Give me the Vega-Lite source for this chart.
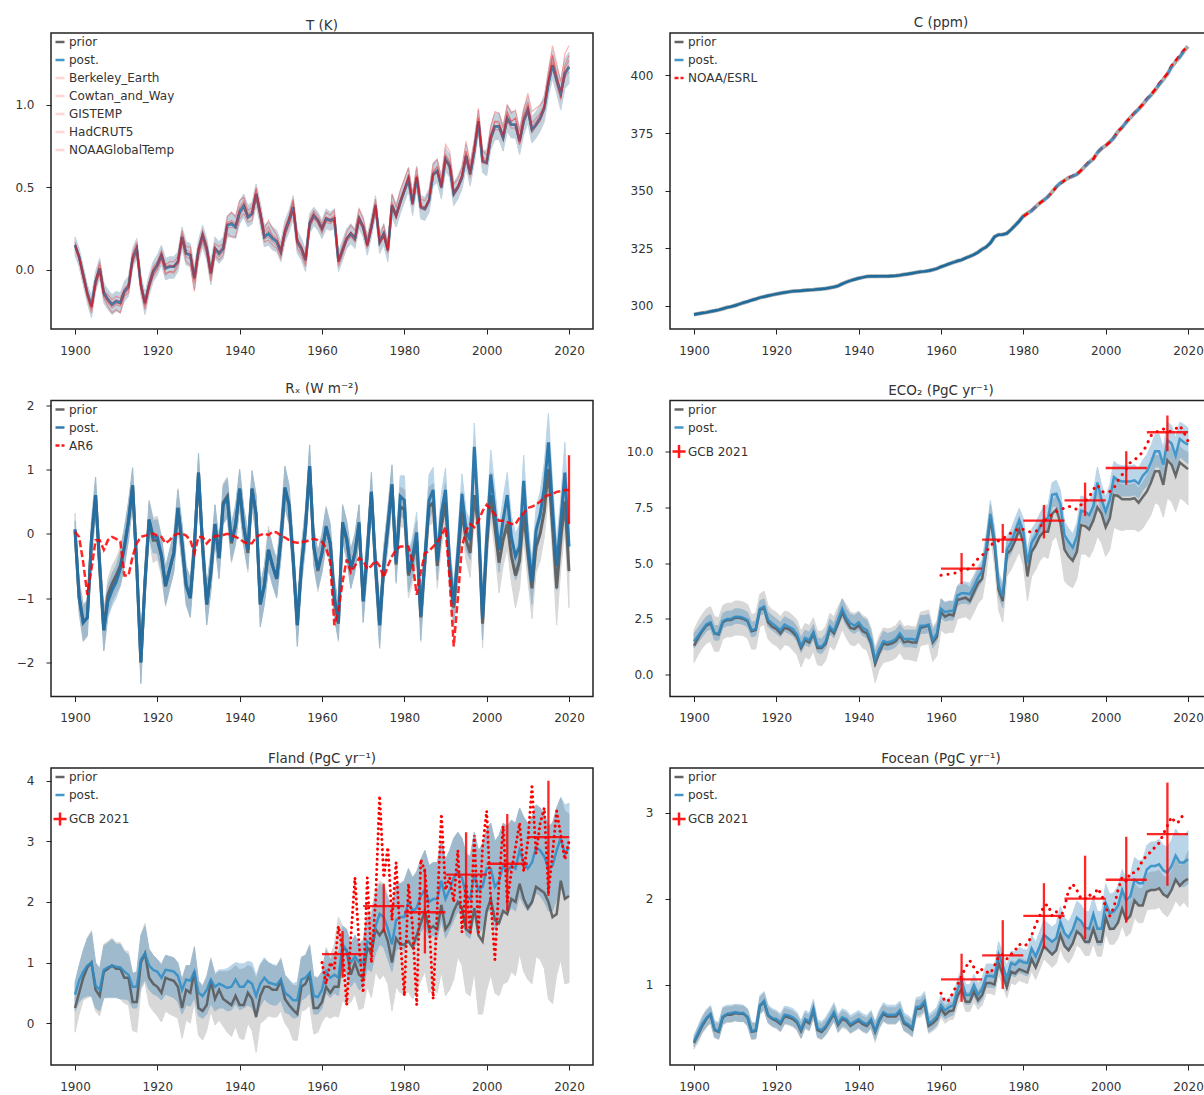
{
"$schema":"https://vega.github.io/schema/vega-lite/v6.json",
"padding":{"left":14,"top":14,"right":0,"bottom":0},
"background":"white",
"bounds":"flush",
"columns":2,
"spacing":{"column":77,"row":71.5},
"resolve":{"scale":{"color":"independent"}},
"config":{
"font":"DejaVu Sans",
"view":{"stroke":"#222222","strokeWidth":1.5},
"axis":{"grid":false,"domain":false,"tickColor":"#222222","tickSize":5,"tickWidth":1,"labelFontSize":12,"labelColor":"#333333"},
"axisX":{"labelPadding":11},
"axisY":{"labelPadding":12},
"legend":{"orient":"top-left","offset":3,"padding":0,"labelFontSize":12,"labelColor":"#333333","rowPadding":6,"symbolSize":81,"symbolStrokeWidth":2.5,"symbolType":"stroke","labelOffset":3,"title":null},
"title":{"fontSize":13.5,"fontWeight":"normal","color":"#333333","offset":4,"font":"DejaVu Sans"}
},
"datasets":{
"t":[
{"yr":1900,"m":0.15,"lo":0.09,"hi":0.2,"be":0.16,"co":0.14,"gi":0.13,"ha":0.17,"no":0.15},
{"yr":1901,"m":0.08,"lo":0.02,"hi":0.13,"be":0.09,"co":0.07,"gi":0.06,"ha":0.08,"no":0.09},
{"yr":1902,"m":-0.03,"lo":-0.09,"hi":0.02,"be":-0.02,"co":-0.05,"gi":-0.06,"ha":-0.02,"no":-0.04},
{"yr":1903,"m":-0.14,"lo":-0.2,"hi":-0.09,"be":-0.13,"co":-0.15,"gi":-0.17,"ha":-0.14,"no":-0.16},
{"yr":1904,"m":-0.22,"lo":-0.29,"hi":-0.16,"be":-0.21,"co":-0.23,"gi":-0.26,"ha":-0.23,"no":-0.24},
{"yr":1905,"m":-0.07,"lo":-0.13,"hi":-0.01,"be":-0.06,"co":-0.08,"gi":-0.11,"ha":-0.06,"no":-0.09},
{"yr":1906,"m":0.01,"lo":-0.05,"hi":0.07,"be":0.03,"co":0,"gi":-0.02,"ha":0.05,"no":-0.01},
{"yr":1907,"m":-0.14,"lo":-0.2,"hi":-0.08,"be":-0.13,"co":-0.15,"gi":-0.17,"ha":-0.12,"no":-0.16},
{"yr":1908,"m":-0.18,"lo":-0.24,"hi":-0.12,"be":-0.15,"co":-0.19,"gi":-0.22,"ha":-0.17,"no":-0.2},
{"yr":1909,"m":-0.21,"lo":-0.27,"hi":-0.15,"be":-0.18,"co":-0.22,"gi":-0.26,"ha":-0.2,"no":-0.23},
{"yr":1910,"m":-0.19,"lo":-0.25,"hi":-0.13,"be":-0.16,"co":-0.2,"gi":-0.24,"ha":-0.18,"no":-0.21},
{"yr":1911,"m":-0.2,"lo":-0.26,"hi":-0.14,"be":-0.17,"co":-0.21,"gi":-0.26,"ha":-0.19,"no":-0.22},
{"yr":1912,"m":-0.13,"lo":-0.19,"hi":-0.07,"be":-0.11,"co":-0.14,"gi":-0.16,"ha":-0.12,"no":-0.15},
{"yr":1913,"m":-0.1,"lo":-0.16,"hi":-0.04,"be":-0.09,"co":-0.11,"gi":-0.14,"ha":-0.09,"no":-0.12},
{"yr":1914,"m":0.07,"lo":0.01,"hi":0.13,"be":0.09,"co":0.07,"gi":0.04,"ha":0.1,"no":0.05},
{"yr":1915,"m":0.13,"lo":0.07,"hi":0.19,"be":0.15,"co":0.14,"gi":0.1,"ha":0.17,"no":0.11},
{"yr":1916,"m":-0.09,"lo":-0.15,"hi":-0.03,"be":-0.08,"co":-0.09,"gi":-0.12,"ha":-0.07,"no":-0.11},
{"yr":1917,"m":-0.2,"lo":-0.27,"hi":-0.14,"be":-0.19,"co":-0.21,"gi":-0.24,"ha":-0.19,"no":-0.22},
{"yr":1918,"m":-0.09,"lo":-0.15,"hi":-0.03,"be":-0.07,"co":-0.1,"gi":-0.12,"ha":-0.08,"no":-0.11},
{"yr":1919,"m":-0.01,"lo":-0.07,"hi":0.05,"be":0.02,"co":-0.01,"gi":-0.04,"ha":0,"no":-0.03},
{"yr":1920,"m":0.03,"lo":-0.03,"hi":0.09,"be":0.05,"co":0.03,"gi":0,"ha":0.04,"no":0.01},
{"yr":1921,"m":0.09,"lo":0.03,"hi":0.15,"be":0.12,"co":0.09,"gi":0.06,"ha":0.1,"no":0.07},
{"yr":1922,"m":0.01,"lo":-0.06,"hi":0.07,"be":0.03,"co":0.01,"gi":-0.03,"ha":0.02,"no":-0.02},
{"yr":1923,"m":0.02,"lo":-0.05,"hi":0.08,"be":0.05,"co":0.02,"gi":-0.01,"ha":0.03,"no":-0.01},
{"yr":1924,"m":0.02,"lo":-0.05,"hi":0.08,"be":0.05,"co":0.02,"gi":-0.02,"ha":0.02,"no":-0.01},
{"yr":1925,"m":0.05,"lo":-0.01,"hi":0.11,"be":0.08,"co":0.05,"gi":0.02,"ha":0.06,"no":0.04},
{"yr":1926,"m":0.2,"lo":0.13,"hi":0.26,"be":0.24,"co":0.2,"gi":0.17,"ha":0.22,"no":0.18},
{"yr":1927,"m":0.1,"lo":0.03,"hi":0.17,"be":0.14,"co":0.1,"gi":0.05,"ha":0.12,"no":0.08},
{"yr":1928,"m":0.09,"lo":0.02,"hi":0.16,"be":0.14,"co":0.1,"gi":0.03,"ha":0.11,"no":0.07},
{"yr":1929,"m":-0.05,"lo":-0.12,"hi":0.02,"be":-0.03,"co":-0.06,"gi":-0.13,"ha":-0.04,"no":-0.08},
{"yr":1930,"m":0.12,"lo":0.05,"hi":0.18,"be":0.14,"co":0.12,"gi":0.08,"ha":0.13,"no":0.1},
{"yr":1931,"m":0.21,"lo":0.14,"hi":0.27,"be":0.24,"co":0.21,"gi":0.17,"ha":0.22,"no":0.19},
{"yr":1932,"m":0.13,"lo":0.06,"hi":0.19,"be":0.16,"co":0.13,"gi":0.09,"ha":0.14,"no":0.11},
{"yr":1933,"m":-0.02,"lo":-0.09,"hi":0.05,"be":0,"co":-0.02,"gi":-0.07,"ha":-0.01,"no":-0.04},
{"yr":1934,"m":0.13,"lo":0.07,"hi":0.2,"be":0.16,"co":0.13,"gi":0.09,"ha":0.14,"no":0.11},
{"yr":1935,"m":0.1,"lo":0.04,"hi":0.17,"be":0.14,"co":0.1,"gi":0.06,"ha":0.11,"no":0.08},
{"yr":1936,"m":0.13,"lo":0.07,"hi":0.2,"be":0.16,"co":0.13,"gi":0.09,"ha":0.15,"no":0.11},
{"yr":1937,"m":0.27,"lo":0.2,"hi":0.33,"be":0.32,"co":0.28,"gi":0.22,"ha":0.29,"no":0.25},
{"yr":1938,"m":0.28,"lo":0.2,"hi":0.35,"be":0.35,"co":0.29,"gi":0.2,"ha":0.3,"no":0.26},
{"yr":1939,"m":0.26,"lo":0.19,"hi":0.33,"be":0.32,"co":0.27,"gi":0.2,"ha":0.28,"no":0.25},
{"yr":1940,"m":0.35,"lo":0.28,"hi":0.42,"be":0.42,"co":0.37,"gi":0.31,"ha":0.38,"no":0.33},
{"yr":1941,"m":0.39,"lo":0.32,"hi":0.46,"be":0.44,"co":0.4,"gi":0.34,"ha":0.42,"no":0.37},
{"yr":1942,"m":0.32,"lo":0.26,"hi":0.39,"be":0.36,"co":0.33,"gi":0.29,"ha":0.34,"no":0.31},
{"yr":1943,"m":0.34,"lo":0.28,"hi":0.41,"be":0.38,"co":0.35,"gi":0.3,"ha":0.36,"no":0.33},
{"yr":1944,"m":0.46,"lo":0.39,"hi":0.52,"be":0.49,"co":0.47,"gi":0.43,"ha":0.5,"no":0.45},
{"yr":1945,"m":0.34,"lo":0.27,"hi":0.41,"be":0.36,"co":0.35,"gi":0.31,"ha":0.37,"no":0.33},
{"yr":1946,"m":0.2,"lo":0.14,"hi":0.27,"be":0.25,"co":0.21,"gi":0.17,"ha":0.23,"no":0.19},
{"yr":1947,"m":0.22,"lo":0.15,"hi":0.29,"be":0.3,"co":0.24,"gi":0.18,"ha":0.26,"no":0.2},
{"yr":1948,"m":0.19,"lo":0.12,"hi":0.26,"be":0.25,"co":0.2,"gi":0.15,"ha":0.21,"no":0.17},
{"yr":1949,"m":0.17,"lo":0.11,"hi":0.24,"be":0.21,"co":0.18,"gi":0.13,"ha":0.19,"no":0.15},
{"yr":1950,"m":0.11,"lo":0.05,"hi":0.17,"be":0.13,"co":0.11,"gi":0.07,"ha":0.12,"no":0.09},
{"yr":1951,"m":0.23,"lo":0.17,"hi":0.3,"be":0.26,"co":0.24,"gi":0.2,"ha":0.25,"no":0.22},
{"yr":1952,"m":0.3,"lo":0.23,"hi":0.36,"be":0.33,"co":0.31,"gi":0.27,"ha":0.32,"no":0.28},
{"yr":1953,"m":0.38,"lo":0.31,"hi":0.45,"be":0.43,"co":0.4,"gi":0.35,"ha":0.42,"no":0.36},
{"yr":1954,"m":0.17,"lo":0.1,"hi":0.24,"be":0.19,"co":0.17,"gi":0.13,"ha":0.19,"no":0.15},
{"yr":1955,"m":0.13,"lo":0.06,"hi":0.19,"be":0.15,"co":0.13,"gi":0.09,"ha":0.14,"no":0.11},
{"yr":1956,"m":0.06,"lo":-0.01,"hi":0.12,"be":0.08,"co":0.06,"gi":0.02,"ha":0.07,"no":0.04},
{"yr":1957,"m":0.28,"lo":0.22,"hi":0.34,"be":0.31,"co":0.28,"gi":0.25,"ha":0.29,"no":0.27},
{"yr":1958,"m":0.33,"lo":0.27,"hi":0.38,"be":0.36,"co":0.34,"gi":0.31,"ha":0.35,"no":0.32},
{"yr":1959,"m":0.3,"lo":0.24,"hi":0.35,"be":0.33,"co":0.3,"gi":0.28,"ha":0.31,"no":0.29},
{"yr":1960,"m":0.25,"lo":0.19,"hi":0.3,"be":0.28,"co":0.25,"gi":0.22,"ha":0.26,"no":0.24},
{"yr":1961,"m":0.31,"lo":0.25,"hi":0.37,"be":0.35,"co":0.32,"gi":0.29,"ha":0.32,"no":0.3},
{"yr":1962,"m":0.3,"lo":0.24,"hi":0.35,"be":0.33,"co":0.3,"gi":0.28,"ha":0.31,"no":0.29},
{"yr":1963,"m":0.31,"lo":0.25,"hi":0.37,"be":0.36,"co":0.32,"gi":0.3,"ha":0.33,"no":0.3},
{"yr":1964,"m":0.05,"lo":-0.01,"hi":0.11,"be":0.07,"co":0.05,"gi":0.02,"ha":0.06,"no":0.04},
{"yr":1965,"m":0.12,"lo":0.06,"hi":0.18,"be":0.15,"co":0.12,"gi":0.09,"ha":0.13,"no":0.11},
{"yr":1966,"m":0.19,"lo":0.13,"hi":0.25,"be":0.23,"co":0.19,"gi":0.17,"ha":0.2,"no":0.18},
{"yr":1967,"m":0.22,"lo":0.16,"hi":0.28,"be":0.27,"co":0.23,"gi":0.2,"ha":0.23,"no":0.21},
{"yr":1968,"m":0.19,"lo":0.13,"hi":0.25,"be":0.24,"co":0.2,"gi":0.17,"ha":0.2,"no":0.18},
{"yr":1969,"m":0.31,"lo":0.25,"hi":0.37,"be":0.37,"co":0.32,"gi":0.29,"ha":0.33,"no":0.3},
{"yr":1970,"m":0.26,"lo":0.2,"hi":0.32,"be":0.31,"co":0.27,"gi":0.24,"ha":0.27,"no":0.25},
{"yr":1971,"m":0.15,"lo":0.09,"hi":0.21,"be":0.19,"co":0.15,"gi":0.13,"ha":0.16,"no":0.14},
{"yr":1972,"m":0.26,"lo":0.2,"hi":0.32,"be":0.29,"co":0.27,"gi":0.24,"ha":0.27,"no":0.25},
{"yr":1973,"m":0.39,"lo":0.33,"hi":0.45,"be":0.43,"co":0.4,"gi":0.37,"ha":0.4,"no":0.38},
{"yr":1974,"m":0.17,"lo":0.1,"hi":0.23,"be":0.2,"co":0.17,"gi":0.15,"ha":0.17,"no":0.16},
{"yr":1975,"m":0.22,"lo":0.15,"hi":0.28,"be":0.27,"co":0.23,"gi":0.2,"ha":0.22,"no":0.2},
{"yr":1976,"m":0.12,"lo":0.05,"hi":0.18,"be":0.14,"co":0.12,"gi":0.1,"ha":0.12,"no":0.11},
{"yr":1977,"m":0.39,"lo":0.32,"hi":0.46,"be":0.46,"co":0.41,"gi":0.37,"ha":0.4,"no":0.38},
{"yr":1978,"m":0.33,"lo":0.26,"hi":0.4,"be":0.38,"co":0.34,"gi":0.31,"ha":0.33,"no":0.32},
{"yr":1979,"m":0.41,"lo":0.34,"hi":0.48,"be":0.48,"co":0.43,"gi":0.39,"ha":0.42,"no":0.4},
{"yr":1980,"m":0.48,"lo":0.41,"hi":0.55,"be":0.55,"co":0.5,"gi":0.49,"ha":0.49,"no":0.47},
{"yr":1981,"m":0.55,"lo":0.48,"hi":0.62,"be":0.62,"co":0.57,"gi":0.58,"ha":0.56,"no":0.53},
{"yr":1982,"m":0.4,"lo":0.33,"hi":0.47,"be":0.46,"co":0.42,"gi":0.4,"ha":0.41,"no":0.39},
{"yr":1983,"m":0.56,"lo":0.49,"hi":0.63,"be":0.62,"co":0.58,"gi":0.57,"ha":0.57,"no":0.55},
{"yr":1984,"m":0.38,"lo":0.31,"hi":0.45,"be":0.43,"co":0.39,"gi":0.38,"ha":0.39,"no":0.37},
{"yr":1985,"m":0.37,"lo":0.3,"hi":0.44,"be":0.42,"co":0.38,"gi":0.37,"ha":0.38,"no":0.36},
{"yr":1986,"m":0.42,"lo":0.35,"hi":0.49,"be":0.47,"co":0.43,"gi":0.43,"ha":0.43,"no":0.41},
{"yr":1987,"m":0.58,"lo":0.51,"hi":0.65,"be":0.64,"co":0.6,"gi":0.59,"ha":0.58,"no":0.57},
{"yr":1988,"m":0.6,"lo":0.53,"hi":0.67,"be":0.67,"co":0.62,"gi":0.63,"ha":0.6,"no":0.59},
{"yr":1989,"m":0.5,"lo":0.43,"hi":0.57,"be":0.55,"co":0.51,"gi":0.52,"ha":0.5,"no":0.49},
{"yr":1990,"m":0.67,"lo":0.6,"hi":0.74,"be":0.76,"co":0.69,"gi":0.7,"ha":0.67,"no":0.66},
{"yr":1991,"m":0.63,"lo":0.56,"hi":0.7,"be":0.72,"co":0.65,"gi":0.66,"ha":0.63,"no":0.62},
{"yr":1992,"m":0.46,"lo":0.39,"hi":0.53,"be":0.52,"co":0.48,"gi":0.47,"ha":0.46,"no":0.45},
{"yr":1993,"m":0.5,"lo":0.43,"hi":0.57,"be":0.55,"co":0.51,"gi":0.51,"ha":0.5,"no":0.49},
{"yr":1994,"m":0.56,"lo":0.49,"hi":0.63,"be":0.62,"co":0.58,"gi":0.58,"ha":0.56,"no":0.55},
{"yr":1995,"m":0.69,"lo":0.62,"hi":0.76,"be":0.78,"co":0.72,"gi":0.72,"ha":0.7,"no":0.67},
{"yr":1996,"m":0.58,"lo":0.51,"hi":0.65,"be":0.64,"co":0.6,"gi":0.6,"ha":0.58,"no":0.56},
{"yr":1997,"m":0.72,"lo":0.65,"hi":0.79,"be":0.78,"co":0.74,"gi":0.74,"ha":0.73,"no":0.71},
{"yr":1998,"m":0.9,"lo":0.83,"hi":0.97,"be":0.98,"co":0.92,"gi":0.9,"ha":0.93,"no":0.88},
{"yr":1999,"m":0.66,"lo":0.59,"hi":0.73,"be":0.72,"co":0.67,"gi":0.68,"ha":0.65,"no":0.65},
{"yr":2000,"m":0.65,"lo":0.57,"hi":0.72,"be":0.7,"co":0.66,"gi":0.67,"ha":0.65,"no":0.64},
{"yr":2001,"m":0.8,"lo":0.73,"hi":0.87,"be":0.87,"co":0.82,"gi":0.82,"ha":0.81,"no":0.78},
{"yr":2002,"m":0.87,"lo":0.79,"hi":0.95,"be":0.96,"co":0.9,"gi":0.9,"ha":0.87,"no":0.85},
{"yr":2003,"m":0.87,"lo":0.79,"hi":0.95,"be":0.95,"co":0.9,"gi":0.89,"ha":0.88,"no":0.85},
{"yr":2004,"m":0.8,"lo":0.72,"hi":0.88,"be":0.86,"co":0.82,"gi":0.82,"ha":0.81,"no":0.79},
{"yr":2005,"m":0.92,"lo":0.84,"hi":1,"be":1.0,"co":0.95,"gi":0.96,"ha":0.92,"no":0.9},
{"yr":2006,"m":0.88,"lo":0.8,"hi":0.96,"be":0.95,"co":0.9,"gi":0.9,"ha":0.88,"no":0.86},
{"yr":2007,"m":0.88,"lo":0.8,"hi":0.96,"be":0.97,"co":0.92,"gi":0.92,"ha":0.88,"no":0.86},
{"yr":2008,"m":0.78,"lo":0.7,"hi":0.86,"be":0.84,"co":0.79,"gi":0.8,"ha":0.76,"no":0.76},
{"yr":2009,"m":0.9,"lo":0.82,"hi":0.98,"be":0.97,"co":0.93,"gi":0.94,"ha":0.91,"no":0.89},
{"yr":2010,"m":0.97,"lo":0.89,"hi":1.05,"be":1.07,"co":1.0,"gi":1.02,"ha":0.98,"no":0.96},
{"yr":2011,"m":0.85,"lo":0.77,"hi":0.93,"be":0.96,"co":0.87,"gi":0.89,"ha":0.85,"no":0.83},
{"yr":2012,"m":0.88,"lo":0.8,"hi":0.96,"be":0.98,"co":0.9,"gi":0.92,"ha":0.88,"no":0.87},
{"yr":2013,"m":0.92,"lo":0.84,"hi":1,"be":1.0,"co":0.94,"gi":0.95,"ha":0.92,"no":0.9},
{"yr":2014,"m":0.98,"lo":0.9,"hi":1.06,"be":1.03,"co":1.0,"gi":1.0,"ha":0.99,"no":0.97},
{"yr":2015,"m":1.13,"lo":1.05,"hi":1.21,"be":1.2,"co":1.16,"gi":1.16,"ha":1.15,"no":1.12},
{"yr":2016,"m":1.24,"lo":1.16,"hi":1.33,"be":1.36,"co":1.3,"gi":1.3,"ha":1.27,"no":1.25},
{"yr":2017,"m":1.15,"lo":1.07,"hi":1.23,"be":1.25,"co":1.18,"gi":1.19,"ha":1.15,"no":1.12},
{"yr":2018,"m":1.07,"lo":0.97,"hi":1.15,"be":1.14,"co":1.08,"gi":1.09,"ha":1.04,"no":1.03},
{"yr":2019,"m":1.19,"lo":1.1,"hi":1.28,"be":1.31,"co":1.22,"gi":1.24,"ha":1.19,"no":1.17},
{"yr":2020,"m":1.23,"lo":1.13,"hi":1.32,"be":1.36,"co":1.27,"gi":1.3,"ha":1.24,"no":1.2}
],
"c":[
{"yr":1900,"m":296.3},{"yr":1901,"m":296.6},{"yr":1902,"m":296.9},{"yr":1903,"m":297.2},{"yr":1904,"m":297.6},{"yr":1905,"m":297.9},{"yr":1906,"m":298.3},{"yr":1907,"m":298.8},{"yr":1908,"m":299.3},{"yr":1909,"m":299.7},{"yr":1910,"m":300.2},{"yr":1911,"m":300.8},{"yr":1912,"m":301.4},{"yr":1913,"m":301.9},{"yr":1914,"m":302.5},{"yr":1915,"m":303.0},{"yr":1916,"m":303.6},{"yr":1917,"m":304.0},{"yr":1918,"m":304.4},{"yr":1919,"m":304.8},{"yr":1920,"m":305.2},{"yr":1921,"m":305.5},{"yr":1922,"m":305.8},{"yr":1923,"m":306.1},{"yr":1924,"m":306.4},{"yr":1925,"m":306.5},{"yr":1926,"m":306.6},{"yr":1927,"m":306.8},{"yr":1928,"m":306.9},{"yr":1929,"m":307.0},{"yr":1930,"m":307.2},{"yr":1931,"m":307.4},{"yr":1932,"m":307.6},{"yr":1933,"m":307.9},{"yr":1934,"m":308.2},{"yr":1935,"m":308.7},{"yr":1936,"m":309.6},{"yr":1937,"m":310.3},{"yr":1938,"m":311.0},{"yr":1939,"m":311.5},{"yr":1940,"m":312.0},{"yr":1941,"m":312.4},{"yr":1942,"m":312.8},{"yr":1943,"m":312.9},{"yr":1944,"m":312.9},{"yr":1945,"m":312.9},{"yr":1946,"m":312.9},{"yr":1947,"m":312.9},{"yr":1948,"m":313.0},{"yr":1949,"m":313.1},{"yr":1950,"m":313.3},{"yr":1951,"m":313.6},{"yr":1952,"m":313.9},{"yr":1953,"m":314.2},{"yr":1954,"m":314.5},{"yr":1955,"m":314.8},{"yr":1956,"m":315.0},{"yr":1957,"m":315.3},{"yr":1958,"m":315.7},{"yr":1959,"m":316.2},{"yr":1960,"m":317.0},{"yr":1961,"m":317.6},{"yr":1962,"m":318.3},{"yr":1963,"m":318.9},{"yr":1964,"m":319.5},{"yr":1965,"m":320.0},{"yr":1966,"m":320.8},{"yr":1967,"m":321.5},{"yr":1968,"m":322.3},{"yr":1969,"m":323.3},{"yr":1970,"m":324.6},{"yr":1971,"m":325.6},{"yr":1972,"m":327.3},{"yr":1973,"m":330.0},{"yr":1974,"m":330.9},{"yr":1975,"m":331.0},{"yr":1976,"m":331.5},{"yr":1977,"m":333.1},{"yr":1978,"m":334.9},{"yr":1979,"m":336.8},{"yr":1980,"m":339.0},{"yr":1981,"m":340.2},{"yr":1982,"m":341.3},{"yr":1983,"m":343.0},{"yr":1984,"m":344.6},{"yr":1985,"m":345.9},{"yr":1986,"m":347.4},{"yr":1987,"m":349.4},{"yr":1988,"m":351.7},{"yr":1989,"m":353.3},{"yr":1990,"m":354.5},{"yr":1991,"m":355.6},{"yr":1992,"m":356.3},{"yr":1993,"m":357.1},{"yr":1994,"m":358.7},{"yr":1995,"m":360.6},{"yr":1996,"m":362.3},{"yr":1997,"m":363.8},{"yr":1998,"m":366.5},{"yr":1999,"m":368.4},{"yr":2000,"m":369.5},{"yr":2001,"m":371.1},{"yr":2002,"m":373.0},{"yr":2003,"m":375.7},{"yr":2004,"m":377.4},{"yr":2005,"m":379.7},{"yr":2006,"m":381.7},{"yr":2007,"m":383.6},{"yr":2008,"m":385.4},{"yr":2009,"m":387.3},{"yr":2010,"m":389.6},{"yr":2011,"m":391.4},{"yr":2012,"m":393.6},{"yr":2013,"m":396.1},{"yr":2014,"m":398.2},{"yr":2015,"m":400.5},{"yr":2016,"m":403.7},{"yr":2017,"m":405.9},{"yr":2018,"m":408.0},{"yr":2019,"m":410.5},{"yr":2020,"m":412.7}
],
"c_obs":[
{"yr":1980,"v":338.8},{"yr":1981,"v":340.1},{"yr":1982,"v":341.4},{"yr":1983,"v":343.0},{"yr":1984,"v":344.6},{"yr":1985,"v":346.0},{"yr":1986,"v":347.4},{"yr":1987,"v":349.2},{"yr":1988,"v":351.6},{"yr":1989,"v":353.1},{"yr":1990,"v":354.4},{"yr":1991,"v":355.6},{"yr":1992,"v":356.4},{"yr":1993,"v":357.1},{"yr":1994,"v":358.8},{"yr":1995,"v":360.8},{"yr":1996,"v":362.6},{"yr":1997,"v":363.7},{"yr":1998,"v":366.6},{"yr":1999,"v":368.3},{"yr":2000,"v":369.5},{"yr":2001,"v":371.1},{"yr":2002,"v":373.2},{"yr":2003,"v":375.8},{"yr":2004,"v":377.5},{"yr":2005,"v":379.8},{"yr":2006,"v":381.9},{"yr":2007,"v":383.8},{"yr":2008,"v":385.6},{"yr":2009,"v":387.4},{"yr":2010,"v":389.9},{"yr":2011,"v":391.6},{"yr":2012,"v":393.9},{"yr":2013,"v":396.5},{"yr":2014,"v":398.6},{"yr":2015,"v":400.8},{"yr":2016,"v":404.2},{"yr":2017,"v":406.5},{"yr":2018,"v":408.7},{"yr":2019,"v":411.0},{"yr":2020,"v":412.8}
],
"r":[
{"yr":1900,"pr":0.05,"prl":-0.2,"prh":0.32,"po":0.07,"pol":-0.1,"poh":0.2,"ob":0.03},
{"yr":1901,"pr":-1.0,"prl":-1.25,"prh":-0.7,"po":-0.98,"pol":-1.2,"poh":-0.75,"ob":-0.05},
{"yr":1902,"pr":-1.38,"prl":-1.68,"prh":-1.1,"po":-1.38,"pol":-1.66,"poh":-1.12,"ob":-0.45},
{"yr":1903,"pr":-1.3,"prl":-1.6,"prh":-1.02,"po":-1.3,"pol":-1.58,"poh":-1.05,"ob":-0.95},
{"yr":1904,"pr":-0.1,"prl":-0.4,"prh":0.2,"po":-0.08,"pol":-0.38,"poh":0.2,"ob":-0.55},
{"yr":1905,"pr":0.6,"prl":0.3,"prh":0.88,"po":0.6,"pol":0.3,"poh":0.88,"ob":-0.1},
{"yr":1906,"pr":-0.5,"prl":-0.8,"prh":-0.2,"po":-0.5,"pol":-0.8,"poh":-0.2,"ob":-0.1},
{"yr":1907,"pr":-1.5,"prl":-1.82,"prh":-1.2,"po":-1.5,"pol":-1.82,"poh":-1.2,"ob":-0.25},
{"yr":1908,"pr":-0.95,"prl":-1.25,"prh":-0.7,"po":-1.05,"pol":-1.3,"poh":-0.8,"ob":-0.1},
{"yr":1909,"pr":-0.78,"prl":-1.05,"prh":-0.5,"po":-0.88,"pol":-1.12,"poh":-0.62,"ob":-0.05},
{"yr":1910,"pr":-0.65,"prl":-0.92,"prh":-0.38,"po":-0.75,"pol":-1.0,"poh":-0.5,"ob":-0.08},
{"yr":1911,"pr":-0.5,"prl":-0.8,"prh":-0.22,"po":-0.55,"pol":-0.82,"poh":-0.28,"ob":-0.12},
{"yr":1912,"pr":-0.2,"prl":-0.5,"prh":0.1,"po":-0.22,"pol":-0.5,"poh":0.08,"ob":-0.65},
{"yr":1913,"pr":0.2,"prl":-0.1,"prh":0.5,"po":0.2,"pol":-0.1,"poh":0.5,"ob":-0.65},
{"yr":1914,"pr":0.75,"prl":0.45,"prh":1.02,"po":0.75,"pol":0.47,"poh":1.03,"ob":-0.35},
{"yr":1915,"pr":-0.5,"prl":-0.8,"prh":-0.2,"po":-0.5,"pol":-0.8,"poh":-0.2,"ob":-0.15},
{"yr":1916,"pr":-2.0,"prl":-2.33,"prh":-1.7,"po":-2.0,"pol":-2.33,"poh":-1.7,"ob":-0.05},
{"yr":1917,"pr":-0.75,"prl":-1.05,"prh":-0.45,"po":-0.75,"pol":-1.05,"poh":-0.45,"ob":-0.03},
{"yr":1918,"pr":0.22,"prl":-0.08,"prh":0.52,"po":0.22,"pol":-0.05,"poh":0.5,"ob":-0.02},
{"yr":1919,"pr":-0.1,"prl":-0.45,"prh":0.25,"po":-0.05,"pol":-0.3,"poh":0.2,"ob":0},
{"yr":1920,"pr":-0.1,"prl":-0.4,"prh":0.27,"po":-0.05,"pol":-0.3,"poh":0.22,"ob":-0.03},
{"yr":1921,"pr":-0.35,"prl":-0.65,"prh":-0.05,"po":-0.33,"pol":-0.6,"poh":-0.05,"ob":-0.05},
{"yr":1922,"pr":-0.82,"prl":-1.13,"prh":-0.52,"po":-0.8,"pol":-1.1,"poh":-0.52,"ob":-0.15},
{"yr":1923,"pr":-0.55,"prl":-0.85,"prh":-0.25,"po":-0.55,"pol":-0.85,"poh":-0.25,"ob":-0.1},
{"yr":1924,"pr":-0.3,"prl":-0.6,"prh":0,"po":-0.3,"pol":-0.6,"poh":0,"ob":-0.03},
{"yr":1925,"pr":0.4,"prl":0.1,"prh":0.7,"po":0.4,"pol":0.12,"poh":0.68,"ob":0},
{"yr":1926,"pr":-0.15,"prl":-0.45,"prh":0.15,"po":-0.15,"pol":-0.45,"poh":0.15,"ob":0},
{"yr":1927,"pr":-0.8,"prl":-1.1,"prh":-0.5,"po":-0.8,"pol":-1.1,"poh":-0.5,"ob":-0.03},
{"yr":1928,"pr":-1.0,"prl":-1.3,"prh":-0.7,"po":-1.0,"pol":-1.3,"poh":-0.7,"ob":-0.1},
{"yr":1929,"pr":-0.2,"prl":-0.5,"prh":0.1,"po":-0.2,"pol":-0.5,"poh":0.1,"ob":-0.3},
{"yr":1930,"pr":0.95,"prl":0.65,"prh":1.25,"po":0.95,"pol":0.65,"poh":1.25,"ob":-0.05},
{"yr":1931,"pr":-0.2,"prl":-0.5,"prh":0.1,"po":-0.2,"pol":-0.5,"poh":0.1,"ob":-0.05},
{"yr":1932,"pr":-1.1,"prl":-1.42,"prh":-0.8,"po":-1.1,"pol":-1.42,"poh":-0.8,"ob":-0.15},
{"yr":1933,"pr":-0.6,"prl":-0.9,"prh":-0.3,"po":-0.6,"pol":-0.9,"poh":-0.3,"ob":-0.08},
{"yr":1934,"pr":0.15,"prl":-0.15,"prh":0.45,"po":0.15,"pol":-0.15,"poh":0.45,"ob":-0.04},
{"yr":1935,"pr":-0.38,"prl":-0.7,"prh":-0.1,"po":-0.38,"pol":-0.7,"poh":-0.1,"ob":-0.03},
{"yr":1936,"pr":0.48,"prl":0.15,"prh":0.78,"po":0.45,"pol":0.15,"poh":0.75,"ob":-0.02},
{"yr":1937,"pr":0.58,"prl":0.25,"prh":0.88,"po":0.55,"pol":0.25,"poh":0.85,"ob":0},
{"yr":1938,"pr":-0.15,"prl":-0.45,"prh":0.15,"po":-0.12,"pol":-0.42,"poh":0.15,"ob":-0.02},
{"yr":1939,"pr":0.12,"prl":-0.18,"prh":0.42,"po":0.15,"pol":-0.15,"poh":0.45,"ob":-0.05},
{"yr":1940,"pr":0.7,"prl":0.4,"prh":1.0,"po":0.7,"pol":0.42,"poh":1.0,"ob":-0.08},
{"yr":1941,"pr":0.1,"prl":-0.2,"prh":0.4,"po":0.1,"pol":-0.2,"poh":0.4,"ob":-0.13},
{"yr":1942,"pr":-0.3,"prl":-0.6,"prh":0,"po":-0.25,"pol":-0.55,"poh":0.05,"ob":-0.15},
{"yr":1943,"pr":0.7,"prl":0.4,"prh":0.98,"po":0.7,"pol":0.4,"poh":0.98,"ob":-0.15},
{"yr":1944,"pr":0.3,"prl":0,"prh":0.6,"po":0.3,"pol":0,"poh":0.6,"ob":-0.05},
{"yr":1945,"pr":-1.1,"prl":-1.45,"prh":-0.8,"po":-1.1,"pol":-1.45,"poh":-0.8,"ob":-0.02},
{"yr":1946,"pr":-0.8,"prl":-1.1,"prh":-0.5,"po":-0.8,"pol":-1.1,"poh":-0.5,"ob":0},
{"yr":1947,"pr":-0.25,"prl":-0.55,"prh":0.12,"po":-0.25,"pol":-0.55,"poh":0.05,"ob":-0.02},
{"yr":1948,"pr":-0.5,"prl":-0.8,"prh":-0.2,"po":-0.5,"pol":-0.8,"poh":-0.2,"ob":0.03},
{"yr":1949,"pr":-0.7,"prl":-1.0,"prh":-0.4,"po":-0.7,"pol":-1.0,"poh":-0.4,"ob":0.02},
{"yr":1950,"pr":-0.1,"prl":-0.4,"prh":0.2,"po":-0.1,"pol":-0.4,"poh":0.2,"ob":-0.03},
{"yr":1951,"pr":0.7,"prl":0.4,"prh":1.05,"po":0.72,"pol":0.42,"poh":1.05,"ob":-0.06},
{"yr":1952,"pr":0.45,"prl":0.15,"prh":0.75,"po":0.45,"pol":0.15,"poh":0.75,"ob":-0.1},
{"yr":1953,"pr":-0.4,"prl":-0.7,"prh":-0.1,"po":-0.4,"pol":-0.7,"poh":-0.1,"ob":-0.13},
{"yr":1954,"pr":-1.42,"prl":-1.75,"prh":-1.1,"po":-1.42,"pol":-1.75,"poh":-1.1,"ob":-0.14},
{"yr":1955,"pr":-0.5,"prl":-0.8,"prh":-0.2,"po":-0.5,"pol":-0.8,"poh":-0.2,"ob":-0.13},
{"yr":1956,"pr":0.1,"prl":-0.2,"prh":0.4,"po":0.1,"pol":-0.2,"poh":0.4,"ob":-0.12},
{"yr":1957,"pr":1.05,"prl":0.75,"prh":1.38,"po":1.05,"pol":0.75,"poh":1.38,"ob":-0.1},
{"yr":1958,"pr":-0.2,"prl":-0.5,"prh":0.1,"po":-0.2,"pol":-0.5,"poh":0.1,"ob":-0.08},
{"yr":1959,"pr":-0.58,"prl":-0.9,"prh":-0.28,"po":-0.55,"pol":-0.85,"poh":-0.28,"ob":-0.1},
{"yr":1960,"pr":-0.3,"prl":-0.6,"prh":0,"po":-0.3,"pol":-0.6,"poh":0,"ob":-0.13},
{"yr":1961,"pr":0.1,"prl":-0.2,"prh":0.43,"po":0.12,"pol":-0.15,"poh":0.4,"ob":-0.22},
{"yr":1962,"pr":-0.15,"prl":-0.45,"prh":0.15,"po":-0.15,"pol":-0.45,"poh":0.15,"ob":-0.45},
{"yr":1963,"pr":-1.0,"prl":-1.3,"prh":-0.7,"po":-1.0,"pol":-1.3,"poh":-0.7,"ob":-1.42},
{"yr":1964,"pr":-1.4,"prl":-1.68,"prh":-1.1,"po":-1.38,"pol":-1.65,"poh":-1.1,"ob":-1.2},
{"yr":1965,"pr":0.15,"prl":-0.15,"prh":0.45,"po":0.18,"pol":-0.1,"poh":0.45,"ob":-0.75},
{"yr":1966,"pr":-0.1,"prl":-0.4,"prh":0.2,"po":-0.08,"pol":-0.38,"poh":0.2,"ob":-0.4},
{"yr":1967,"pr":-0.55,"prl":-0.85,"prh":-0.25,"po":-0.55,"pol":-0.85,"poh":-0.25,"ob":-0.6},
{"yr":1968,"pr":-0.3,"prl":-0.6,"prh":0,"po":-0.3,"pol":-0.6,"poh":0,"ob":-0.5},
{"yr":1969,"pr":0.15,"prl":-0.15,"prh":0.45,"po":0.18,"pol":-0.12,"poh":0.45,"ob":-0.38},
{"yr":1970,"pr":-1.05,"prl":-1.38,"prh":-0.75,"po":-1.05,"pol":-1.38,"poh":-0.75,"ob":-0.42},
{"yr":1971,"pr":-0.3,"prl":-0.6,"prh":0,"po":-0.3,"pol":-0.6,"poh":0,"ob":-0.55},
{"yr":1972,"pr":0.65,"prl":0.35,"prh":0.95,"po":0.65,"pol":0.35,"poh":0.95,"ob":-0.5},
{"yr":1973,"pr":-0.5,"prl":-0.8,"prh":-0.2,"po":-0.5,"pol":-0.8,"poh":-0.2,"ob":-0.42},
{"yr":1974,"pr":-1.42,"prl":-1.78,"prh":-1.1,"po":-1.42,"pol":-1.78,"poh":-1.1,"ob":-0.5},
{"yr":1975,"pr":-0.5,"prl":-0.8,"prh":-0.2,"po":-0.5,"pol":-0.8,"poh":-0.2,"ob":-0.68},
{"yr":1976,"pr":0.1,"prl":-0.2,"prh":0.4,"po":0.12,"pol":-0.18,"poh":0.4,"ob":-0.5},
{"yr":1977,"pr":0.75,"prl":0.45,"prh":1.07,"po":0.77,"pol":0.47,"poh":1.07,"ob":-0.35},
{"yr":1978,"pr":-0.48,"prl":-0.78,"prh":-0.18,"po":-0.45,"pol":-0.75,"poh":-0.15,"ob":-0.25},
{"yr":1979,"pr":0.42,"prl":0.12,"prh":0.72,"po":0.58,"pol":0.28,"poh":0.9,"ob":-0.2},
{"yr":1980,"pr":0.38,"prl":0.08,"prh":0.68,"po":0.52,"pol":0.22,"poh":0.9,"ob":-0.2},
{"yr":1981,"pr":-0.65,"prl":-1.0,"prh":-0.35,"po":-0.6,"pol":-0.9,"poh":-0.3,"ob":-0.2},
{"yr":1982,"pr":-0.42,"prl":-0.75,"prh":-0.12,"po":-0.35,"pol":-0.65,"poh":-0.05,"ob":-0.45},
{"yr":1983,"pr":-0.12,"prl":-0.42,"prh":0.2,"po":0.02,"pol":-0.28,"poh":0.33,"ob":-0.95},
{"yr":1984,"pr":-1.3,"prl":-1.68,"prh":-1.0,"po":-1.28,"pol":-1.65,"poh":-1.0,"ob":-0.6},
{"yr":1985,"pr":-0.42,"prl":-0.72,"prh":-0.12,"po":-0.38,"pol":-0.68,"poh":-0.08,"ob":-0.3},
{"yr":1986,"pr":0.42,"prl":0.12,"prh":0.72,"po":0.52,"pol":0.22,"poh":0.92,"ob":-0.27},
{"yr":1987,"pr":0.48,"prl":0.18,"prh":0.78,"po":0.68,"pol":0.38,"poh":1.03,"ob":-0.2},
{"yr":1988,"pr":-0.5,"prl":-0.85,"prh":-0.2,"po":-0.42,"pol":-0.72,"poh":-0.12,"ob":-0.13},
{"yr":1989,"pr":0.12,"prl":-0.2,"prh":0.42,"po":0.32,"pol":0.02,"poh":0.62,"ob":-0.03},
{"yr":1990,"pr":0.48,"prl":0.18,"prh":0.78,"po":0.68,"pol":0.38,"poh":1.02,"ob":0.1},
{"yr":1991,"pr":-0.55,"prl":-0.88,"prh":-0.25,"po":-0.45,"pol":-0.75,"poh":-0.15,"ob":-0.7},
{"yr":1992,"pr":-1.15,"prl":-1.5,"prh":-0.85,"po":-1.1,"pol":-1.4,"poh":-0.8,"ob":-1.75},
{"yr":1993,"pr":-0.42,"prl":-0.75,"prh":-0.12,"po":-0.3,"pol":-0.6,"poh":0,"ob":-1.0},
{"yr":1994,"pr":0.35,"prl":0.05,"prh":0.65,"po":0.62,"pol":0.32,"poh":0.93,"ob":-0.2},
{"yr":1995,"pr":-0.1,"prl":-0.42,"prh":0.2,"po":0.05,"pol":-0.25,"poh":0.35,"ob":0.05},
{"yr":1996,"pr":-0.3,"prl":-0.68,"prh":0,"po":-0.1,"pol":-0.4,"poh":0.2,"ob":0.15},
{"yr":1997,"pr":0.6,"prl":0.3,"prh":0.95,"po":1.35,"pol":1.0,"poh":1.72,"ob":0.1},
{"yr":1998,"pr":0.1,"prl":-0.2,"prh":0.4,"po":0.25,"pol":-0.05,"poh":0.55,"ob":0.2},
{"yr":1999,"pr":-1.4,"prl":-1.78,"prh":-1.1,"po":-1.32,"pol":-1.65,"poh":-1.0,"ob":0.35},
{"yr":2000,"pr":-0.2,"prl":-0.52,"prh":0.1,"po":-0.05,"pol":-0.35,"poh":0.25,"ob":0.45},
{"yr":2001,"pr":0.6,"prl":0.25,"prh":0.95,"po":0.92,"pol":0.55,"poh":1.3,"ob":0.38},
{"yr":2002,"pr":0.1,"prl":-0.25,"prh":0.42,"po":0.35,"pol":0.02,"poh":0.7,"ob":0.3},
{"yr":2003,"pr":-0.45,"prl":-0.92,"prh":-0.15,"po":-0.25,"pol":-0.6,"poh":0.08,"ob":0.2},
{"yr":2004,"pr":-0.1,"prl":-0.5,"prh":0.25,"po":0.22,"pol":-0.12,"poh":0.55,"ob":0.2},
{"yr":2005,"pr":0.15,"prl":-0.22,"prh":0.5,"po":0.6,"pol":0.25,"poh":0.95,"ob":0.18},
{"yr":2006,"pr":-0.35,"prl":-0.75,"prh":0,"po":-0.05,"pol":-0.38,"poh":0.28,"ob":0.15},
{"yr":2007,"pr":-0.65,"prl":-1.15,"prh":-0.3,"po":-0.35,"pol":-0.72,"poh":0,"ob":0.15},
{"yr":2008,"pr":-0.42,"prl":-0.85,"prh":-0.08,"po":-0.2,"pol":-0.55,"poh":0.15,"ob":0.25},
{"yr":2009,"pr":0.3,"prl":-0.08,"prh":0.68,"po":0.82,"pol":0.45,"poh":1.22,"ob":0.32},
{"yr":2010,"pr":-0.3,"prl":-0.72,"prh":0.05,"po":-0.15,"pol":-0.5,"poh":0.2,"ob":0.4},
{"yr":2011,"pr":-0.85,"prl":-1.32,"prh":-0.5,"po":-0.75,"pol":-1.1,"poh":-0.4,"ob":0.42},
{"yr":2012,"pr":-0.2,"prl":-0.6,"prh":0.15,"po":0.05,"pol":-0.3,"poh":0.4,"ob":0.45},
{"yr":2013,"pr":0.0,"prl":-0.42,"prh":0.35,"po":0.3,"pol":-0.05,"poh":0.65,"ob":0.5},
{"yr":2014,"pr":0.35,"prl":-0.05,"prh":0.72,"po":0.72,"pol":0.35,"poh":1.1,"ob":0.57},
{"yr":2015,"pr":1.0,"prl":0.62,"prh":1.4,"po":1.42,"pol":1.0,"poh":1.87,"ob":0.6},
{"yr":2016,"pr":0.1,"prl":-0.3,"prh":0.48,"po":0.4,"pol":0.02,"poh":0.8,"ob":0.62},
{"yr":2017,"pr":-0.85,"prl":-1.42,"prh":-0.45,"po":-0.5,"pol":-0.88,"poh":-0.12,"ob":0.65},
{"yr":2018,"pr":-0.1,"prl":-0.55,"prh":0.28,"po":0.2,"pol":-0.15,"poh":0.55,"ob":0.66},
{"yr":2019,"pr":0.5,"prl":0.05,"prh":0.9,"po":0.95,"pol":0.55,"poh":1.42,"ob":0.68},
{"yr":2020,"pr":-0.58,"prl":-1.15,"prh":-0.2,"po":-0.2,"pol":-0.6,"poh":0.2,"ob":0.68}
],
"e":[
{"yr":1900,"pr":1.3,"prl":0.55,"prh":2.0,"po":1.5,"pol":1.2,"poh":1.85},
{"yr":1901,"pr":1.65,"prl":0.9,"prh":2.4,"po":1.75,"pol":1.45,"poh":2.1},
{"yr":1902,"pr":1.95,"prl":1.2,"prh":2.7,"po":2.0,"pol":1.7,"poh":2.35},
{"yr":1903,"pr":2.2,"prl":1.4,"prh":2.95,"po":2.25,"pol":1.95,"poh":2.6},
{"yr":1904,"pr":2.3,"prl":1.5,"prh":3.05,"po":2.35,"pol":2.05,"poh":2.7},
{"yr":1905,"pr":1.85,"prl":1.05,"prh":2.6,"po":1.85,"pol":1.55,"poh":2.2},
{"yr":1906,"pr":1.8,"prl":1.05,"prh":2.55,"po":1.85,"pol":1.55,"poh":2.2},
{"yr":1907,"pr":2.35,"prl":1.6,"prh":3.1,"po":2.4,"pol":2.1,"poh":2.75},
{"yr":1908,"pr":2.45,"prl":1.7,"prh":3.2,"po":2.5,"pol":2.2,"poh":2.85},
{"yr":1909,"pr":2.45,"prl":1.7,"prh":3.2,"po":2.5,"pol":2.2,"poh":2.85},
{"yr":1910,"pr":2.55,"prl":1.78,"prh":3.3,"po":2.6,"pol":2.3,"poh":2.95},
{"yr":1911,"pr":2.55,"prl":1.78,"prh":3.3,"po":2.6,"pol":2.3,"poh":2.95},
{"yr":1912,"pr":2.5,"prl":1.75,"prh":3.25,"po":2.55,"pol":2.25,"poh":2.9},
{"yr":1913,"pr":2.4,"prl":1.65,"prh":3.15,"po":2.45,"pol":2.15,"poh":2.8},
{"yr":1914,"pr":1.95,"prl":1.15,"prh":2.7,"po":2.0,"pol":1.7,"poh":2.35},
{"yr":1915,"pr":2.0,"prl":1.15,"prh":2.75,"po":2.05,"pol":1.75,"poh":2.4},
{"yr":1916,"pr":2.9,"prl":2.15,"prh":3.6,"po":2.95,"pol":2.65,"poh":3.3},
{"yr":1917,"pr":3.0,"prl":2.25,"prh":3.75,"po":3.05,"pol":2.75,"poh":3.4},
{"yr":1918,"pr":2.35,"prl":1.6,"prh":3.1,"po":2.45,"pol":2.15,"poh":2.8},
{"yr":1919,"pr":2.15,"prl":1.4,"prh":2.9,"po":2.3,"pol":2.0,"poh":2.65},
{"yr":1920,"pr":2.05,"prl":1.3,"prh":2.8,"po":2.15,"pol":1.85,"poh":2.5},
{"yr":1921,"pr":1.85,"prl":1.1,"prh":2.6,"po":2.0,"pol":1.7,"poh":2.35},
{"yr":1922,"pr":2.1,"prl":1.35,"prh":2.85,"po":2.25,"pol":1.95,"poh":2.6},
{"yr":1923,"pr":2.05,"prl":1.3,"prh":2.8,"po":2.15,"pol":1.85,"poh":2.5},
{"yr":1924,"pr":1.9,"prl":1.1,"prh":2.65,"po":2.05,"pol":1.75,"poh":2.4},
{"yr":1925,"pr":1.7,"prl":0.9,"prh":2.45,"po":1.8,"pol":1.5,"poh":2.15},
{"yr":1926,"pr":1.2,"prl":0.35,"prh":1.95,"po":1.3,"pol":1.0,"poh":1.65},
{"yr":1927,"pr":1.55,"prl":0.8,"prh":2.3,"po":1.65,"pol":1.35,"poh":2.0},
{"yr":1928,"pr":1.45,"prl":0.7,"prh":2.2,"po":1.55,"pol":1.25,"poh":1.9},
{"yr":1929,"pr":1.85,"prl":1.05,"prh":2.55,"po":1.9,"pol":1.6,"poh":2.25},
{"yr":1930,"pr":1.2,"prl":0.45,"prh":1.95,"po":1.3,"pol":1.0,"poh":1.65},
{"yr":1931,"pr":1.2,"prl":0.4,"prh":1.95,"po":1.25,"pol":0.95,"poh":1.6},
{"yr":1932,"pr":1.4,"prl":0.65,"prh":2.15,"po":1.5,"pol":1.2,"poh":1.85},
{"yr":1933,"pr":2.05,"prl":1.3,"prh":2.75,"po":2.15,"pol":1.85,"poh":2.5},
{"yr":1934,"pr":1.85,"prl":1.1,"prh":2.6,"po":1.95,"pol":1.65,"poh":2.3},
{"yr":1935,"pr":2.3,"prl":1.55,"prh":3.05,"po":2.45,"pol":2.15,"poh":2.8},
{"yr":1936,"pr":2.8,"prl":2.05,"prh":3.4,"po":2.95,"pol":2.6,"poh":3.4},
{"yr":1937,"pr":2.4,"prl":1.65,"prh":3.15,"po":2.55,"pol":2.2,"poh":2.95},
{"yr":1938,"pr":2.1,"prl":1.35,"prh":2.8,"po":2.3,"pol":1.95,"poh":2.7},
{"yr":1939,"pr":2.05,"prl":1.3,"prh":2.75,"po":2.2,"pol":1.85,"poh":2.65},
{"yr":1940,"pr":2.2,"prl":1.45,"prh":2.85,"po":2.35,"pol":2.0,"poh":2.8},
{"yr":1941,"pr":1.95,"prl":1.2,"prh":2.65,"po":2.1,"pol":1.75,"poh":2.55},
{"yr":1942,"pr":1.85,"prl":1.1,"prh":2.55,"po":2.0,"pol":1.65,"poh":2.45},
{"yr":1943,"pr":1.4,"prl":0.55,"prh":2.1,"po":1.55,"pol":1.2,"poh":1.95},
{"yr":1944,"pr":0.5,"prl":-0.35,"prh":1.2,"po":0.65,"pol":0.35,"poh":1.05},
{"yr":1945,"pr":1.0,"prl":0.25,"prh":1.75,"po":1.15,"pol":0.85,"poh":1.55},
{"yr":1946,"pr":1.4,"prl":0.55,"prh":2.1,"po":1.5,"pol":1.15,"poh":1.95},
{"yr":1947,"pr":1.35,"prl":0.6,"prh":2.05,"po":1.45,"pol":1.1,"poh":1.85},
{"yr":1948,"pr":1.4,"prl":0.65,"prh":2.1,"po":1.5,"pol":1.15,"poh":1.9},
{"yr":1949,"pr":1.5,"prl":0.75,"prh":2.2,"po":1.6,"pol":1.25,"poh":2.0},
{"yr":1950,"pr":1.75,"prl":1.0,"prh":2.45,"po":1.85,"pol":1.5,"poh":2.25},
{"yr":1951,"pr":1.45,"prl":0.7,"prh":2.15,"po":1.6,"pol":1.25,"poh":2.0},
{"yr":1952,"pr":1.5,"prl":0.7,"prh":2.2,"po":1.6,"pol":1.25,"poh":2.0},
{"yr":1953,"pr":1.45,"prl":0.65,"prh":2.15,"po":1.6,"pol":1.25,"poh":2.0},
{"yr":1954,"pr":1.45,"prl":0.6,"prh":2.15,"po":1.55,"pol":1.2,"poh":2.0},
{"yr":1955,"pr":2.1,"prl":1.3,"prh":2.8,"po":2.2,"pol":1.85,"poh":2.65},
{"yr":1956,"pr":2.15,"prl":1.35,"prh":2.85,"po":2.2,"pol":1.85,"poh":2.65},
{"yr":1957,"pr":2.2,"prl":1.4,"prh":2.9,"po":2.25,"pol":1.9,"poh":2.7},
{"yr":1958,"pr":1.45,"prl":0.6,"prh":2.15,"po":1.55,"pol":1.2,"poh":2.0},
{"yr":1959,"pr":1.7,"prl":0.85,"prh":2.4,"po":1.85,"pol":1.5,"poh":2.3},
{"yr":1960,"pr":2.8,"prl":2.0,"prh":3.4,"po":2.95,"pol":2.55,"poh":3.4},
{"yr":1961,"pr":2.6,"prl":1.85,"prh":3.2,"po":2.8,"pol":2.4,"poh":3.25},
{"yr":1962,"pr":2.7,"prl":1.9,"prh":3.3,"po":2.85,"pol":2.45,"poh":3.3},
{"yr":1963,"pr":2.65,"prl":1.9,"prh":3.25,"po":2.85,"pol":2.45,"poh":3.3},
{"yr":1964,"pr":3.35,"prl":2.5,"prh":3.95,"po":3.55,"pol":3.1,"poh":4.0},
{"yr":1965,"pr":3.4,"prl":2.55,"prh":4.0,"po":3.65,"pol":3.2,"poh":4.15},
{"yr":1966,"pr":3.45,"prl":2.6,"prh":4.05,"po":3.65,"pol":3.2,"poh":4.15},
{"yr":1967,"pr":3.3,"prl":2.45,"prh":3.9,"po":3.6,"pol":3.15,"poh":4.1},
{"yr":1968,"pr":3.7,"prl":2.8,"prh":4.3,"po":3.95,"pol":3.5,"poh":4.45},
{"yr":1969,"pr":4.1,"prl":3.2,"prh":4.7,"po":4.35,"pol":3.9,"poh":4.85},
{"yr":1970,"pr":4.3,"prl":3.4,"prh":4.9,"po":4.65,"pol":4.2,"poh":5.15},
{"yr":1971,"pr":5.5,"prl":4.5,"prh":6.1,"po":5.7,"pol":5.2,"poh":6.3},
{"yr":1972,"pr":7.0,"prl":6.2,"prh":7.6,"po":7.2,"pol":6.7,"poh":7.8},
{"yr":1973,"pr":5.8,"prl":4.9,"prh":6.4,"po":6.0,"pol":5.5,"poh":6.6},
{"yr":1974,"pr":3.8,"prl":2.9,"prh":4.4,"po":4.0,"pol":3.5,"poh":4.6},
{"yr":1975,"pr":3.3,"prl":2.35,"prh":3.9,"po":3.5,"pol":3.0,"poh":4.1},
{"yr":1976,"pr":5.4,"prl":4.4,"prh":6.0,"po":5.6,"pol":5.1,"poh":6.2},
{"yr":1977,"pr":5.6,"prl":4.7,"prh":6.2,"po":5.9,"pol":5.4,"poh":6.5},
{"yr":1978,"pr":6.0,"prl":5.1,"prh":6.6,"po":6.4,"pol":5.9,"poh":7.0},
{"yr":1979,"pr":6.5,"prl":5.5,"prh":7.1,"po":6.9,"pol":6.4,"poh":7.45},
{"yr":1980,"pr":5.9,"prl":4.9,"prh":6.5,"po":6.4,"pol":5.9,"poh":7.0},
{"yr":1981,"pr":4.4,"prl":3.3,"prh":5.0,"po":5.0,"pol":4.5,"poh":5.6},
{"yr":1982,"pr":5.5,"prl":4.4,"prh":6.1,"po":5.9,"pol":5.4,"poh":6.5},
{"yr":1983,"pr":5.8,"prl":4.7,"prh":6.4,"po":6.2,"pol":5.7,"poh":6.8},
{"yr":1984,"pr":6.2,"prl":5.1,"prh":6.8,"po":6.6,"pol":6.1,"poh":7.2},
{"yr":1985,"pr":6.4,"prl":5.3,"prh":7.0,"po":6.95,"pol":6.4,"poh":7.55},
{"yr":1986,"pr":6.4,"prl":5.2,"prh":7.0,"po":7.0,"pol":6.45,"poh":7.6},
{"yr":1987,"pr":7.2,"prl":6.0,"prh":7.8,"po":8.05,"pol":7.5,"poh":8.6},
{"yr":1988,"pr":7.4,"prl":6.2,"prh":8.0,"po":8.1,"pol":7.55,"poh":8.7},
{"yr":1989,"pr":6.8,"prl":5.5,"prh":7.4,"po":7.65,"pol":7.1,"poh":8.25},
{"yr":1990,"pr":5.6,"prl":4.2,"prh":6.2,"po":6.25,"pol":5.7,"poh":6.85},
{"yr":1991,"pr":5.3,"prl":4.0,"prh":5.9,"po":5.95,"pol":5.4,"poh":6.55},
{"yr":1992,"pr":5.1,"prl":3.9,"prh":5.7,"po":5.7,"pol":5.15,"poh":6.3},
{"yr":1993,"pr":5.5,"prl":4.3,"prh":6.1,"po":6.2,"pol":5.65,"poh":6.8},
{"yr":1994,"pr":6.7,"prl":5.4,"prh":7.3,"po":7.35,"pol":6.8,"poh":8.0},
{"yr":1995,"pr":6.65,"prl":5.4,"prh":7.25,"po":7.3,"pol":6.75,"poh":7.95},
{"yr":1996,"pr":6.5,"prl":5.25,"prh":7.1,"po":7.15,"pol":6.55,"poh":7.8},
{"yr":1997,"pr":6.9,"prl":5.6,"prh":7.5,"po":7.55,"pol":6.95,"poh":8.2},
{"yr":1998,"pr":7.5,"prl":6.2,"prh":8.2,"po":8.6,"pol":8.0,"poh":9.3},
{"yr":1999,"pr":7.2,"prl":5.9,"prh":7.9,"po":7.85,"pol":7.25,"poh":8.5},
{"yr":2000,"pr":6.6,"prl":5.3,"prh":7.2,"po":7.3,"pol":6.7,"poh":7.95},
{"yr":2001,"pr":7.0,"prl":5.6,"prh":7.6,"po":7.85,"pol":7.25,"poh":8.5},
{"yr":2002,"pr":8.05,"prl":6.6,"prh":8.7,"po":8.85,"pol":8.2,"poh":9.55},
{"yr":2003,"pr":8.0,"prl":6.5,"prh":8.65,"po":8.7,"pol":8.05,"poh":9.4},
{"yr":2004,"pr":7.85,"prl":6.45,"prh":8.5,"po":8.65,"pol":8.0,"poh":9.35},
{"yr":2005,"pr":7.85,"prl":6.5,"prh":8.5,"po":8.65,"pol":8.0,"poh":9.35},
{"yr":2006,"pr":7.85,"prl":6.5,"prh":8.5,"po":8.65,"pol":8.0,"poh":9.35},
{"yr":2007,"pr":7.9,"prl":6.5,"prh":8.55,"po":8.7,"pol":8.05,"poh":9.4},
{"yr":2008,"pr":7.7,"prl":6.4,"prh":8.35,"po":8.55,"pol":7.9,"poh":9.25},
{"yr":2009,"pr":7.95,"prl":6.55,"prh":8.6,"po":8.9,"pol":8.25,"poh":9.6},
{"yr":2010,"pr":8.2,"prl":6.85,"prh":8.9,"po":9.1,"pol":8.45,"poh":9.85},
{"yr":2011,"pr":8.6,"prl":7.15,"prh":9.3,"po":9.5,"pol":8.8,"poh":10.25},
{"yr":2012,"pr":9.1,"prl":7.7,"prh":9.8,"po":10.0,"pol":9.3,"poh":10.75},
{"yr":2013,"pr":9.1,"prl":7.6,"prh":9.8,"po":10.0,"pol":9.3,"poh":10.75},
{"yr":2014,"pr":8.5,"prl":7.05,"prh":9.2,"po":9.4,"pol":8.7,"poh":10.15},
{"yr":2015,"pr":9.6,"prl":7.9,"prh":10.3,"po":10.5,"pol":9.7,"poh":11.3},
{"yr":2016,"pr":9.4,"prl":7.75,"prh":10.1,"po":10.35,"pol":9.55,"poh":11.15},
{"yr":2017,"pr":8.9,"prl":7.3,"prh":9.6,"po":9.8,"pol":9.0,"poh":10.6},
{"yr":2018,"pr":9.5,"prl":7.9,"prh":10.2,"po":10.55,"pol":9.75,"poh":11.3},
{"yr":2019,"pr":9.35,"prl":7.8,"prh":10.05,"po":10.4,"pol":9.6,"poh":11.2},
{"yr":2020,"pr":9.2,"prl":7.6,"prh":9.95,"po":10.3,"pol":9.45,"poh":11.05}
],
"e_obs":[
{"yr":1960,"v":4.45},{"yr":1961,"v":4.5},{"yr":1962,"v":4.5},{"yr":1963,"v":4.55},{"yr":1964,"v":4.55},{"yr":1965,"v":4.7},{"yr":1966,"v":4.7},{"yr":1967,"v":4.75},{"yr":1968,"v":4.95},{"yr":1969,"v":5.2},{"yr":1970,"v":5.35},{"yr":1971,"v":5.5},{"yr":1972,"v":5.8},{"yr":1973,"v":5.9},{"yr":1974,"v":6.0},{"yr":1975,"v":6.1},{"yr":1976,"v":6.2},{"yr":1977,"v":6.35},{"yr":1978,"v":6.45},{"yr":1979,"v":6.55},{"yr":1980,"v":6.5},{"yr":1981,"v":6.4},{"yr":1982,"v":6.4},{"yr":1983,"v":6.4},{"yr":1984,"v":6.6},{"yr":1985,"v":6.85},{"yr":1986,"v":7.0},{"yr":1987,"v":7.2},{"yr":1988,"v":7.3},{"yr":1989,"v":7.4},{"yr":1990,"v":7.45},{"yr":1991,"v":7.55},{"yr":1992,"v":7.45},{"yr":1993,"v":7.4},{"yr":1994,"v":7.6},{"yr":1995,"v":7.75},{"yr":1996,"v":7.95},{"yr":1997,"v":8.3},{"yr":1998,"v":8.5},{"yr":1999,"v":8.2},{"yr":2000,"v":8.15},{"yr":2001,"v":8.2},{"yr":2002,"v":8.35},{"yr":2003,"v":8.7},{"yr":2004,"v":8.95},{"yr":2005,"v":9.2},{"yr":2006,"v":9.5},{"yr":2007,"v":9.6},{"yr":2008,"v":9.8},{"yr":2009,"v":9.95},{"yr":2010,"v":10.3},{"yr":2011,"v":10.7},{"yr":2012,"v":10.8},{"yr":2013,"v":10.95},{"yr":2014,"v":11.0},{"yr":2015,"v":10.9},{"yr":2016,"v":10.9},{"yr":2017,"v":11.0},{"yr":2018,"v":11.15},{"yr":2019,"v":10.85},{"yr":2020,"v":10.45}
],
"e_gcb":[
{"yr":1965,"x0":1960,"x1":1970,"v":4.75,"lo":4.05,"hi":5.45},
{"yr":1975,"x0":1970,"x1":1980,"v":6.05,"lo":5.45,"hi":6.75},
{"yr":1985,"x0":1980,"x1":1990,"v":6.9,"lo":6.1,"hi":7.6},
{"yr":1995,"x0":1990,"x1":2000,"v":7.8,"lo":7.1,"hi":8.6},
{"yr":2005,"x0":2000,"x1":2010,"v":9.25,"lo":8.5,"hi":10.0},
{"yr":2015,"x0":2010,"x1":2020,"v":10.85,"lo":10.0,"hi":11.6}
],
"l":[
{"yr":1900,"pr":0.25,"prl":-0.15,"prh":0.65,"po":0.47,"pol":0.2,"poh":0.68},
{"yr":1901,"pr":0.5,"prl":0.15,"prh":0.95,"po":0.7,"pol":0.35,"poh":0.95},
{"yr":1902,"pr":0.75,"prl":0.38,"prh":1.2,"po":0.85,"pol":0.42,"poh":1.2},
{"yr":1903,"pr":0.92,"prl":0.42,"prh":1.4,"po":0.95,"pol":0.45,"poh":1.4},
{"yr":1904,"pr":1.0,"prl":0.45,"prh":1.53,"po":1.0,"pol":0.45,"poh":1.5},
{"yr":1905,"pr":0.55,"prl":0.2,"prh":1.0,"po":0.62,"pol":0.25,"poh":1.0},
{"yr":1906,"pr":0.45,"prl":0.12,"prh":0.9,"po":0.55,"pol":0.2,"poh":0.9},
{"yr":1907,"pr":0.85,"prl":0.42,"prh":1.3,"po":0.88,"pol":0.42,"poh":1.28},
{"yr":1908,"pr":0.9,"prl":0.43,"prh":1.35,"po":0.92,"pol":0.42,"poh":1.32},
{"yr":1909,"pr":0.95,"prl":0.43,"prh":1.4,"po":0.95,"pol":0.42,"poh":1.38},
{"yr":1910,"pr":0.9,"prl":0.43,"prh":1.33,"po":0.93,"pol":0.42,"poh":1.3},
{"yr":1911,"pr":0.9,"prl":0.4,"prh":1.33,"po":0.92,"pol":0.4,"poh":1.3},
{"yr":1912,"pr":0.75,"prl":0.33,"prh":1.2,"po":0.85,"pol":0.4,"poh":1.18},
{"yr":1913,"pr":0.75,"prl":0.3,"prh":1.18,"po":0.8,"pol":0.38,"poh":1.12},
{"yr":1914,"pr":0.35,"prl":-0.12,"prh":0.82,"po":0.6,"pol":0.25,"poh":0.82},
{"yr":1915,"pr":0.35,"prl":-0.15,"prh":0.85,"po":0.6,"pol":0.25,"poh":0.85},
{"yr":1916,"pr":1.0,"prl":0.55,"prh":1.45,"po":1.05,"pol":0.6,"poh":1.45},
{"yr":1917,"pr":1.15,"prl":0.68,"prh":1.65,"po":1.15,"pol":0.72,"poh":1.6},
{"yr":1918,"pr":0.75,"prl":0.3,"prh":1.22,"po":0.95,"pol":0.55,"poh":1.22},
{"yr":1919,"pr":0.65,"prl":0.2,"prh":1.12,"po":0.88,"pol":0.48,"poh":1.12},
{"yr":1920,"pr":0.6,"prl":0.12,"prh":1.05,"po":0.85,"pol":0.45,"poh":1.05},
{"yr":1921,"pr":0.5,"prl":0.02,"prh":0.95,"po":0.75,"pol":0.38,"poh":0.98},
{"yr":1922,"pr":0.75,"prl":0.2,"prh":1.12,"po":0.88,"pol":0.48,"poh":1.12},
{"yr":1923,"pr":0.72,"prl":0.15,"prh":1.1,"po":0.87,"pol":0.45,"poh":1.1},
{"yr":1924,"pr":0.7,"prl":0.12,"prh":1.08,"po":0.85,"pol":0.42,"poh":1.08},
{"yr":1925,"pr":0.6,"prl":0.08,"prh":0.98,"po":0.78,"pol":0.35,"poh":1.0},
{"yr":1926,"pr":0.25,"prl":-0.25,"prh":0.72,"po":0.55,"pol":0.15,"poh":0.72},
{"yr":1927,"pr":0.55,"prl":0.05,"prh":0.95,"po":0.72,"pol":0.3,"poh":0.95},
{"yr":1928,"pr":0.5,"prl":0,"prh":0.95,"po":0.7,"pol":0.28,"poh":0.95},
{"yr":1929,"pr":0.85,"prl":0.35,"prh":1.27,"po":0.85,"pol":0.42,"poh":1.25},
{"yr":1930,"pr":0.25,"prl":-0.2,"prh":0.7,"po":0.5,"pol":0.12,"poh":0.7},
{"yr":1931,"pr":0.2,"prl":-0.28,"prh":0.6,"po":0.45,"pol":0.08,"poh":0.62},
{"yr":1932,"pr":0.3,"prl":-0.12,"prh":0.75,"po":0.55,"pol":0.15,"poh":0.78},
{"yr":1933,"pr":0.7,"prl":0.2,"prh":1.08,"po":0.72,"pol":0.32,"poh":1.05},
{"yr":1934,"pr":0.4,"prl":-0.03,"prh":0.8,"po":0.6,"pol":0.2,"poh":0.82},
{"yr":1935,"pr":0.55,"prl":0.05,"prh":0.85,"po":0.65,"pol":0.25,"poh":0.88},
{"yr":1936,"pr":0.4,"prl":-0.05,"prh":0.85,"po":0.62,"pol":0.25,"poh":0.88},
{"yr":1937,"pr":0.35,"prl":-0.15,"prh":0.85,"po":0.58,"pol":0.2,"poh":0.9},
{"yr":1938,"pr":0.3,"prl":-0.22,"prh":0.88,"po":0.6,"pol":0.22,"poh":0.95},
{"yr":1939,"pr":0.45,"prl":-0.05,"prh":0.95,"po":0.72,"pol":0.32,"poh":1.0},
{"yr":1940,"pr":0.3,"prl":-0.25,"prh":0.88,"po":0.6,"pol":0.22,"poh":0.98},
{"yr":1941,"pr":0.3,"prl":-0.27,"prh":0.9,"po":0.6,"pol":0.25,"poh":0.98},
{"yr":1942,"pr":0.5,"prl":0,"prh":0.95,"po":0.7,"pol":0.3,"poh":1.02},
{"yr":1943,"pr":0.4,"prl":-0.12,"prh":0.92,"po":0.65,"pol":0.25,"poh":1.0},
{"yr":1944,"pr":0.1,"prl":-0.48,"prh":0.72,"po":0.45,"pol":0.1,"poh":0.78},
{"yr":1945,"pr":0.45,"prl":0,"prh":0.95,"po":0.65,"pol":0.28,"poh":0.98},
{"yr":1946,"pr":0.6,"prl":0.05,"prh":1.05,"po":0.75,"pol":0.4,"poh":1.08},
{"yr":1947,"pr":0.6,"prl":0.12,"prh":1.0,"po":0.67,"pol":0.33,"poh":1.0},
{"yr":1948,"pr":0.55,"prl":0.1,"prh":0.95,"po":0.65,"pol":0.3,"poh":0.97},
{"yr":1949,"pr":0.55,"prl":0.1,"prh":0.93,"po":0.63,"pol":0.3,"poh":0.95},
{"yr":1950,"pr":0.7,"prl":0.2,"prh":1.08,"po":0.72,"pol":0.38,"poh":1.05},
{"yr":1951,"pr":0.4,"prl":0,"prh":0.78,"po":0.5,"pol":0.18,"poh":0.8},
{"yr":1952,"pr":0.3,"prl":-0.1,"prh":0.7,"po":0.45,"pol":0.15,"poh":0.72},
{"yr":1953,"pr":0.22,"prl":-0.28,"prh":0.62,"po":0.38,"pol":0.08,"poh":0.65},
{"yr":1954,"pr":0.15,"prl":-0.28,"prh":0.62,"po":0.38,"pol":0.1,"poh":0.68},
{"yr":1955,"pr":0.6,"prl":0.2,"prh":1.1,"po":0.72,"pol":0.38,"poh":1.08},
{"yr":1956,"pr":0.65,"prl":0.22,"prh":1.12,"po":0.75,"pol":0.42,"poh":1.12},
{"yr":1957,"pr":0.8,"prl":0.3,"prh":1.3,"po":0.83,"pol":0.5,"poh":1.28},
{"yr":1958,"pr":0.25,"prl":-0.18,"prh":0.75,"po":0.45,"pol":0.15,"poh":0.78},
{"yr":1959,"pr":0.25,"prl":-0.15,"prh":0.75,"po":0.43,"pol":0.15,"poh":0.75},
{"yr":1960,"pr":0.35,"prl":0.02,"prh":0.85,"po":0.55,"pol":0.25,"poh":0.85},
{"yr":1961,"pr":0.6,"prl":0.12,"prh":1.25,"po":0.85,"pol":0.5,"poh":1.2},
{"yr":1962,"pr":0.5,"prl":0.08,"prh":1.1,"po":0.75,"pol":0.42,"poh":1.05},
{"yr":1963,"pr":0.6,"prl":0.12,"prh":1.3,"po":0.8,"pol":0.5,"poh":1.15},
{"yr":1964,"pr":0.6,"prl":0.1,"prh":1.75,"po":0.75,"pol":0.45,"poh":1.15},
{"yr":1965,"pr":1.25,"prl":0.38,"prh":1.6,"po":1.3,"pol":0.95,"poh":1.6},
{"yr":1966,"pr":1.2,"prl":0.3,"prh":1.55,"po":1.2,"pol":0.8,"poh":1.55},
{"yr":1967,"pr":0.8,"prl":0.35,"prh":1.3,"po":1.0,"pol":0.6,"poh":1.3},
{"yr":1968,"pr":1.0,"prl":0.48,"prh":1.45,"po":1.1,"pol":0.7,"poh":1.45},
{"yr":1969,"pr":0.8,"prl":0.22,"prh":1.3,"po":1.0,"pol":0.55,"poh":1.32},
{"yr":1970,"pr":0.75,"prl":0.25,"prh":1.35,"po":1.0,"pol":0.6,"poh":1.38},
{"yr":1971,"pr":1.25,"prl":0.6,"prh":1.85,"po":1.35,"pol":0.9,"poh":1.75},
{"yr":1972,"pr":1.15,"prl":0.42,"prh":1.85,"po":1.3,"pol":0.85,"poh":1.75},
{"yr":1973,"pr":1.55,"prl":0.85,"prh":2.2,"po":1.6,"pol":1.15,"poh":2.1},
{"yr":1974,"pr":1.45,"prl":0.72,"prh":2.35,"po":1.8,"pol":1.3,"poh":2.3},
{"yr":1975,"pr":1.55,"prl":0.8,"prh":2.3,"po":1.75,"pol":1.25,"poh":2.25},
{"yr":1976,"pr":1.35,"prl":0.65,"prh":2.1,"po":1.55,"pol":1.05,"poh":2.05},
{"yr":1977,"pr":1.0,"prl":0.2,"prh":1.85,"po":1.3,"pol":0.85,"poh":1.85},
{"yr":1978,"pr":1.4,"prl":0.6,"prh":2.3,"po":1.7,"pol":1.2,"poh":2.3},
{"yr":1979,"pr":1.3,"prl":0.5,"prh":2.3,"po":1.75,"pol":1.25,"poh":2.3},
{"yr":1980,"pr":1.3,"prl":0.48,"prh":2.35,"po":1.75,"pol":1.2,"poh":2.35},
{"yr":1981,"pr":1.35,"prl":0.52,"prh":2.55,"po":2.0,"pol":1.4,"poh":2.55},
{"yr":1982,"pr":1.25,"prl":0.4,"prh":2.4,"po":1.85,"pol":1.25,"poh":2.4},
{"yr":1983,"pr":1.45,"prl":0.52,"prh":2.5,"po":1.9,"pol":1.3,"poh":2.5},
{"yr":1984,"pr":1.65,"prl":0.7,"prh":2.7,"po":2.1,"pol":1.5,"poh":2.7},
{"yr":1985,"pr":1.85,"prl":0.85,"prh":2.85,"po":2.2,"pol":1.6,"poh":2.85},
{"yr":1986,"pr":1.55,"prl":0.5,"prh":2.6,"po":2.0,"pol":1.4,"poh":2.6},
{"yr":1987,"pr":1.6,"prl":0.55,"prh":2.65,"po":2.05,"pol":1.45,"poh":2.65},
{"yr":1988,"pr":1.55,"prl":0.5,"prh":2.65,"po":2.05,"pol":1.4,"poh":2.65},
{"yr":1989,"pr":1.95,"prl":0.85,"prh":3.0,"po":2.35,"pol":1.7,"poh":3.0},
{"yr":1990,"pr":1.55,"prl":0.45,"prh":2.7,"po":2.05,"pol":1.4,"poh":2.7},
{"yr":1991,"pr":1.65,"prl":0.55,"prh":2.85,"po":2.2,"pol":1.55,"poh":2.85},
{"yr":1992,"pr":1.85,"prl":0.72,"prh":3.05,"po":2.4,"pol":1.7,"poh":3.05},
{"yr":1993,"pr":2.0,"prl":1.1,"prh":3.15,"po":2.5,"pol":1.85,"poh":3.15},
{"yr":1994,"pr":1.9,"prl":0.95,"prh":3.05,"po":2.4,"pol":1.75,"poh":3.05},
{"yr":1995,"pr":1.55,"prl":0.5,"prh":2.8,"po":2.1,"pol":1.45,"poh":2.8},
{"yr":1996,"pr":1.5,"prl":0.45,"prh":2.75,"po":2.05,"pol":1.4,"poh":2.75},
{"yr":1997,"pr":1.9,"prl":0.85,"prh":3.15,"po":2.45,"pol":1.8,"poh":3.15},
{"yr":1998,"pr":1.45,"prl":0.15,"prh":2.85,"po":2.2,"pol":1.5,"poh":2.85},
{"yr":1999,"pr":1.35,"prl":0.15,"prh":2.95,"po":2.25,"pol":1.55,"poh":2.95},
{"yr":2000,"pr":1.85,"prl":0.55,"prh":3.2,"po":2.55,"pol":1.85,"poh":3.2},
{"yr":2001,"pr":2.05,"prl":0.8,"prh":3.3,"po":2.55,"pol":1.85,"poh":3.3},
{"yr":2002,"pr":1.7,"prl":0.5,"prh":3.0,"po":2.25,"pol":1.55,"poh":3.0},
{"yr":2003,"pr":1.65,"prl":0.45,"prh":3.1,"po":2.35,"pol":1.65,"poh":3.1},
{"yr":2004,"pr":1.85,"prl":0.65,"prh":3.3,"po":2.6,"pol":1.85,"poh":3.3},
{"yr":2005,"pr":1.8,"prl":0.68,"prh":3.25,"po":2.5,"pol":1.8,"poh":3.25},
{"yr":2006,"pr":2.05,"prl":0.85,"prh":3.35,"po":2.6,"pol":1.9,"poh":3.35},
{"yr":2007,"pr":2.0,"prl":0.78,"prh":3.3,"po":2.55,"pol":1.85,"poh":3.3},
{"yr":2008,"pr":2.3,"prl":1.15,"prh":3.55,"po":2.85,"pol":2.1,"poh":3.55},
{"yr":2009,"pr":2.05,"prl":0.85,"prh":3.4,"po":2.65,"pol":1.95,"poh":3.4},
{"yr":2010,"pr":1.9,"prl":0.72,"prh":3.3,"po":2.55,"pol":1.85,"poh":3.3},
{"yr":2011,"pr":2.0,"prl":0.65,"prh":3.4,"po":2.65,"pol":1.95,"poh":3.4},
{"yr":2012,"pr":2.25,"prl":1.1,"prh":3.6,"po":2.9,"pol":2.15,"poh":3.6},
{"yr":2013,"pr":2.2,"prl":1.05,"prh":3.55,"po":2.85,"pol":2.1,"poh":3.55},
{"yr":2014,"pr":2.15,"prl":0.9,"prh":3.45,"po":2.75,"pol":2.0,"poh":3.45},
{"yr":2015,"pr":2.0,"prl":0.4,"prh":3.25,"po":2.55,"pol":1.85,"poh":3.25},
{"yr":2016,"pr":1.75,"prl":0.32,"prh":3.3,"po":2.6,"pol":1.85,"poh":3.3},
{"yr":2017,"pr":1.8,"prl":0.8,"prh":3.55,"po":2.85,"pol":2.05,"poh":3.55},
{"yr":2018,"pr":2.35,"prl":1.05,"prh":3.72,"po":3.05,"pol":2.3,"poh":3.72},
{"yr":2019,"pr":2.05,"prl":0.65,"prh":3.5,"po":2.8,"pol":2.05,"poh":3.6},
{"yr":2020,"pr":2.1,"prl":0.67,"prh":3.45,"po":2.9,"pol":2.1,"poh":3.63}
],
"l_obs":[
{"yr":1960,"v":1.0},{"yr":1961,"v":0.65},{"yr":1962,"v":1.0},{"yr":1963,"v":0.9},{"yr":1964,"v":1.6},{"yr":1965,"v":1.2},{"yr":1966,"v":0.3},{"yr":1967,"v":1.4},{"yr":1968,"v":2.4},{"yr":1969,"v":1.3},{"yr":1970,"v":0.5},{"yr":1971,"v":2.4},{"yr":1972,"v":1.0},{"yr":1973,"v":2.0},{"yr":1974,"v":3.75},{"yr":1975,"v":2.4},{"yr":1976,"v":2.9},{"yr":1977,"v":1.7},{"yr":1978,"v":2.65},{"yr":1979,"v":1.4},{"yr":1980,"v":0.45},{"yr":1981,"v":2.3},{"yr":1982,"v":1.6},{"yr":1983,"v":0.3},{"yr":1984,"v":2.7},{"yr":1985,"v":2.5},{"yr":1986,"v":1.7},{"yr":1987,"v":0.4},{"yr":1988,"v":1.9},{"yr":1989,"v":3.45},{"yr":1990,"v":2.2},{"yr":1991,"v":2.4},{"yr":1992,"v":2.0},{"yr":1993,"v":2.85},{"yr":1994,"v":1.5},{"yr":1995,"v":2.3},{"yr":1996,"v":1.5},{"yr":1997,"v":3.1},{"yr":1998,"v":1.5},{"yr":1999,"v":2.9},{"yr":2000,"v":3.5},{"yr":2001,"v":2.0},{"yr":2002,"v":1.05},{"yr":2003,"v":2.3},{"yr":2004,"v":3.25},{"yr":2005,"v":2.0},{"yr":2006,"v":2.5},{"yr":2007,"v":2.9},{"yr":2008,"v":3.3},{"yr":2009,"v":2.5},{"yr":2010,"v":3.0},{"yr":2011,"v":3.9},{"yr":2012,"v":2.8},{"yr":2013,"v":3.3},{"yr":2014,"v":3.55},{"yr":2015,"v":2.15},{"yr":2016,"v":2.8},{"yr":2017,"v":3.5},{"yr":2018,"v":3.1},{"yr":2019,"v":2.7},{"yr":2020,"v":3.0}
],
"l_gcb":[
{"yr":1965,"x0":1960,"x1":1970,"v":1.14,"lo":0.75,"hi":1.52},
{"yr":1975,"x0":1970,"x1":1980,"v":1.93,"lo":1.5,"hi":2.3},
{"yr":1985,"x0":1980,"x1":1990,"v":1.83,"lo":1.15,"hi":2.55},
{"yr":1995,"x0":1990,"x1":2000,"v":2.45,"lo":1.55,"hi":3.15},
{"yr":2005,"x0":2000,"x1":2010,"v":2.63,"lo":1.85,"hi":3.45},
{"yr":2015,"x0":2010,"x1":2020,"v":3.07,"lo":2.1,"hi":4.0}
],
"o":[
{"yr":1900,"pr":0.32,"prl":0.25,"prh":0.39,"po":0.34,"pol":0.28,"poh":0.41},
{"yr":1901,"pr":0.42,"prl":0.33,"prh":0.5,"po":0.44,"pol":0.36,"poh":0.52},
{"yr":1902,"pr":0.52,"prl":0.43,"prh":0.61,"po":0.54,"pol":0.45,"poh":0.63},
{"yr":1903,"pr":0.6,"prl":0.5,"prh":0.69,"po":0.61,"pol":0.51,"poh":0.71},
{"yr":1904,"pr":0.65,"prl":0.55,"prh":0.74,"po":0.66,"pol":0.56,"poh":0.76},
{"yr":1905,"pr":0.47,"prl":0.38,"prh":0.56,"po":0.48,"pol":0.39,"poh":0.58},
{"yr":1906,"pr":0.45,"prl":0.36,"prh":0.54,"po":0.46,"pol":0.37,"poh":0.56},
{"yr":1907,"pr":0.62,"prl":0.53,"prh":0.72,"po":0.63,"pol":0.54,"poh":0.74},
{"yr":1908,"pr":0.65,"prl":0.56,"prh":0.74,"po":0.66,"pol":0.57,"poh":0.76},
{"yr":1909,"pr":0.65,"prl":0.56,"prh":0.74,"po":0.67,"pol":0.57,"poh":0.76},
{"yr":1910,"pr":0.67,"prl":0.58,"prh":0.76,"po":0.68,"pol":0.58,"poh":0.77},
{"yr":1911,"pr":0.66,"prl":0.57,"prh":0.75,"po":0.67,"pol":0.57,"poh":0.77},
{"yr":1912,"pr":0.66,"prl":0.57,"prh":0.75,"po":0.67,"pol":0.57,"poh":0.76},
{"yr":1913,"pr":0.62,"prl":0.52,"prh":0.71,"po":0.62,"pol":0.52,"poh":0.72},
{"yr":1914,"pr":0.45,"prl":0.36,"prh":0.55,"po":0.46,"pol":0.37,"poh":0.56},
{"yr":1915,"pr":0.46,"prl":0.37,"prh":0.55,"po":0.47,"pol":0.37,"poh":0.56},
{"yr":1916,"pr":0.75,"prl":0.65,"prh":0.85,"po":0.76,"pol":0.66,"poh":0.87},
{"yr":1917,"pr":0.8,"prl":0.7,"prh":0.9,"po":0.81,"pol":0.71,"poh":0.92},
{"yr":1918,"pr":0.64,"prl":0.55,"prh":0.74,"po":0.65,"pol":0.56,"poh":0.76},
{"yr":1919,"pr":0.6,"prl":0.51,"prh":0.7,"po":0.61,"pol":0.52,"poh":0.72},
{"yr":1920,"pr":0.58,"prl":0.49,"prh":0.68,"po":0.6,"pol":0.5,"poh":0.7},
{"yr":1921,"pr":0.54,"prl":0.45,"prh":0.63,"po":0.56,"pol":0.46,"poh":0.66},
{"yr":1922,"pr":0.63,"prl":0.54,"prh":0.72,"po":0.65,"pol":0.55,"poh":0.75},
{"yr":1923,"pr":0.62,"prl":0.53,"prh":0.71,"po":0.64,"pol":0.54,"poh":0.74},
{"yr":1924,"pr":0.6,"prl":0.51,"prh":0.69,"po":0.62,"pol":0.52,"poh":0.72},
{"yr":1925,"pr":0.56,"prl":0.47,"prh":0.65,"po":0.58,"pol":0.48,"poh":0.68},
{"yr":1926,"pr":0.46,"prl":0.37,"prh":0.55,"po":0.48,"pol":0.38,"poh":0.58},
{"yr":1927,"pr":0.58,"prl":0.49,"prh":0.67,"po":0.6,"pol":0.5,"poh":0.7},
{"yr":1928,"pr":0.55,"prl":0.46,"prh":0.64,"po":0.57,"pol":0.47,"poh":0.67},
{"yr":1929,"pr":0.7,"prl":0.61,"prh":0.8,"po":0.72,"pol":0.62,"poh":0.83},
{"yr":1930,"pr":0.47,"prl":0.38,"prh":0.56,"po":0.49,"pol":0.39,"poh":0.59},
{"yr":1931,"pr":0.45,"prl":0.36,"prh":0.54,"po":0.47,"pol":0.37,"poh":0.57},
{"yr":1932,"pr":0.5,"prl":0.41,"prh":0.59,"po":0.52,"pol":0.42,"poh":0.62},
{"yr":1933,"pr":0.58,"prl":0.49,"prh":0.67,"po":0.6,"pol":0.5,"poh":0.7},
{"yr":1934,"pr":0.66,"prl":0.57,"prh":0.76,"po":0.68,"pol":0.58,"poh":0.79},
{"yr":1935,"pr":0.53,"prl":0.44,"prh":0.62,"po":0.55,"pol":0.45,"poh":0.65},
{"yr":1936,"pr":0.6,"prl":0.5,"prh":0.69,"po":0.62,"pol":0.52,"poh":0.72},
{"yr":1937,"pr":0.58,"prl":0.48,"prh":0.67,"po":0.6,"pol":0.5,"poh":0.7},
{"yr":1938,"pr":0.52,"prl":0.43,"prh":0.61,"po":0.54,"pol":0.44,"poh":0.64},
{"yr":1939,"pr":0.55,"prl":0.46,"prh":0.64,"po":0.57,"pol":0.47,"poh":0.67},
{"yr":1940,"pr":0.58,"prl":0.49,"prh":0.67,"po":0.6,"pol":0.5,"poh":0.7},
{"yr":1941,"pr":0.54,"prl":0.45,"prh":0.63,"po":0.56,"pol":0.46,"poh":0.66},
{"yr":1942,"pr":0.52,"prl":0.43,"prh":0.61,"po":0.54,"pol":0.44,"poh":0.64},
{"yr":1943,"pr":0.58,"prl":0.49,"prh":0.68,"po":0.6,"pol":0.5,"poh":0.7},
{"yr":1944,"pr":0.45,"prl":0.33,"prh":0.55,"po":0.46,"pol":0.36,"poh":0.57},
{"yr":1945,"pr":0.58,"prl":0.49,"prh":0.68,"po":0.6,"pol":0.5,"poh":0.7},
{"yr":1946,"pr":0.66,"prl":0.57,"prh":0.76,"po":0.68,"pol":0.58,"poh":0.79},
{"yr":1947,"pr":0.63,"prl":0.54,"prh":0.73,"po":0.65,"pol":0.55,"poh":0.76},
{"yr":1948,"pr":0.63,"prl":0.54,"prh":0.73,"po":0.65,"pol":0.55,"poh":0.76},
{"yr":1949,"pr":0.63,"prl":0.54,"prh":0.73,"po":0.65,"pol":0.55,"poh":0.76},
{"yr":1950,"pr":0.68,"prl":0.59,"prh":0.78,"po":0.7,"pol":0.6,"poh":0.81},
{"yr":1951,"pr":0.55,"prl":0.46,"prh":0.64,"po":0.57,"pol":0.47,"poh":0.67},
{"yr":1952,"pr":0.52,"prl":0.43,"prh":0.61,"po":0.54,"pol":0.44,"poh":0.64},
{"yr":1953,"pr":0.48,"prl":0.39,"prh":0.57,"po":0.5,"pol":0.4,"poh":0.6},
{"yr":1954,"pr":0.72,"prl":0.62,"prh":0.82,"po":0.74,"pol":0.64,"poh":0.85},
{"yr":1955,"pr":0.72,"prl":0.62,"prh":0.82,"po":0.75,"pol":0.65,"poh":0.86},
{"yr":1956,"pr":0.78,"prl":0.68,"prh":0.88,"po":0.81,"pol":0.7,"poh":0.92},
{"yr":1957,"pr":0.52,"prl":0.43,"prh":0.62,"po":0.55,"pol":0.45,"poh":0.65},
{"yr":1958,"pr":0.55,"prl":0.46,"prh":0.65,"po":0.58,"pol":0.48,"poh":0.69},
{"yr":1959,"pr":0.6,"prl":0.5,"prh":0.7,"po":0.63,"pol":0.53,"poh":0.74},
{"yr":1960,"pr":0.72,"prl":0.62,"prh":0.82,"po":0.76,"pol":0.65,"poh":0.87},
{"yr":1961,"pr":0.65,"prl":0.55,"prh":0.75,"po":0.7,"pol":0.6,"poh":0.81},
{"yr":1962,"pr":0.69,"prl":0.59,"prh":0.79,"po":0.74,"pol":0.63,"poh":0.85},
{"yr":1963,"pr":0.7,"prl":0.6,"prh":0.8,"po":0.76,"pol":0.65,"poh":0.87},
{"yr":1964,"pr":0.87,"prl":0.76,"prh":0.98,"po":0.94,"pol":0.83,"poh":1.06},
{"yr":1965,"pr":0.95,"prl":0.84,"prh":1.06,"po":1.05,"pol":0.93,"poh":1.18},
{"yr":1966,"pr":0.8,"prl":0.69,"prh":0.91,"po":0.88,"pol":0.77,"poh":1.0},
{"yr":1967,"pr":0.8,"prl":0.69,"prh":0.91,"po":0.88,"pol":0.77,"poh":1.0},
{"yr":1968,"pr":0.92,"prl":0.8,"prh":1.03,"po":0.99,"pol":0.87,"poh":1.12},
{"yr":1969,"pr":0.82,"prl":0.71,"prh":0.93,"po":0.88,"pol":0.77,"poh":1.01},
{"yr":1970,"pr":0.88,"prl":0.76,"prh":0.99,"po":0.95,"pol":0.83,"poh":1.08},
{"yr":1971,"pr":1.02,"prl":0.9,"prh":1.14,"po":1.1,"pol":0.97,"poh":1.24},
{"yr":1972,"pr":1.02,"prl":0.9,"prh":1.14,"po":1.1,"pol":0.97,"poh":1.24},
{"yr":1973,"pr":1.0,"prl":0.88,"prh":1.12,"po":1.09,"pol":0.96,"poh":1.23},
{"yr":1974,"pr":1.25,"prl":1.12,"prh":1.38,"po":1.35,"pol":1.21,"poh":1.5},
{"yr":1975,"pr":1.12,"prl":0.99,"prh":1.25,"po":1.22,"pol":1.08,"poh":1.37},
{"yr":1976,"pr":0.97,"prl":0.85,"prh":1.09,"po":1.07,"pol":0.94,"poh":1.21},
{"yr":1977,"pr":1.15,"prl":1.02,"prh":1.28,"po":1.25,"pol":1.11,"poh":1.39},
{"yr":1978,"pr":1.13,"prl":1.0,"prh":1.26,"po":1.23,"pol":1.09,"poh":1.38},
{"yr":1979,"pr":1.18,"prl":1.05,"prh":1.31,"po":1.28,"pol":1.14,"poh":1.43},
{"yr":1980,"pr":1.16,"prl":1.03,"prh":1.29,"po":1.26,"pol":1.12,"poh":1.41},
{"yr":1981,"pr":1.14,"prl":1.01,"prh":1.27,"po":1.25,"pol":1.1,"poh":1.4},
{"yr":1982,"pr":1.3,"prl":1.16,"prh":1.44,"po":1.42,"pol":1.27,"poh":1.58},
{"yr":1983,"pr":1.2,"prl":1.06,"prh":1.34,"po":1.33,"pol":1.18,"poh":1.49},
{"yr":1984,"pr":1.32,"prl":1.18,"prh":1.46,"po":1.45,"pol":1.3,"poh":1.62},
{"yr":1985,"pr":1.45,"prl":1.3,"prh":1.6,"po":1.58,"pol":1.42,"poh":1.75},
{"yr":1986,"pr":1.4,"prl":1.25,"prh":1.55,"po":1.54,"pol":1.38,"poh":1.71},
{"yr":1987,"pr":1.35,"prl":1.2,"prh":1.5,"po":1.5,"pol":1.34,"poh":1.67},
{"yr":1988,"pr":1.4,"prl":1.25,"prh":1.55,"po":1.54,"pol":1.38,"poh":1.71},
{"yr":1989,"pr":1.58,"prl":1.42,"prh":1.74,"po":1.73,"pol":1.56,"poh":1.91},
{"yr":1990,"pr":1.45,"prl":1.3,"prh":1.6,"po":1.6,"pol":1.43,"poh":1.78},
{"yr":1991,"pr":1.4,"prl":1.25,"prh":1.55,"po":1.55,"pol":1.38,"poh":1.73},
{"yr":1992,"pr":1.48,"prl":1.33,"prh":1.64,"po":1.64,"pol":1.47,"poh":1.83},
{"yr":1993,"pr":1.62,"prl":1.46,"prh":1.78,"po":1.78,"pol":1.6,"poh":1.97},
{"yr":1994,"pr":1.58,"prl":1.42,"prh":1.74,"po":1.74,"pol":1.56,"poh":1.93},
{"yr":1995,"pr":1.5,"prl":1.34,"prh":1.66,"po":1.66,"pol":1.48,"poh":1.85},
{"yr":1996,"pr":1.5,"prl":1.34,"prh":1.66,"po":1.65,"pol":1.47,"poh":1.85},
{"yr":1997,"pr":1.65,"prl":1.48,"prh":1.82,"po":1.82,"pol":1.63,"poh":2.02},
{"yr":1998,"pr":1.5,"prl":1.33,"prh":1.67,"po":1.65,"pol":1.46,"poh":1.85},
{"yr":1999,"pr":1.5,"prl":1.33,"prh":1.67,"po":1.65,"pol":1.46,"poh":1.85},
{"yr":2000,"pr":1.78,"prl":1.6,"prh":1.96,"po":1.95,"pol":1.75,"poh":2.17},
{"yr":2001,"pr":1.65,"prl":1.47,"prh":1.83,"po":1.83,"pol":1.63,"poh":2.05},
{"yr":2002,"pr":1.65,"prl":1.47,"prh":1.83,"po":1.85,"pol":1.65,"poh":2.07},
{"yr":2003,"pr":1.72,"prl":1.54,"prh":1.9,"po":1.92,"pol":1.72,"poh":2.15},
{"yr":2004,"pr":1.88,"prl":1.69,"prh":2.07,"po":2.1,"pol":1.88,"poh":2.34},
{"yr":2005,"pr":1.75,"prl":1.56,"prh":1.94,"po":1.98,"pol":1.76,"poh":2.22},
{"yr":2006,"pr":1.8,"prl":1.6,"prh":1.99,"po":2.03,"pol":1.8,"poh":2.28},
{"yr":2007,"pr":1.98,"prl":1.78,"prh":2.18,"po":2.22,"pol":1.98,"poh":2.48},
{"yr":2008,"pr":1.92,"prl":1.72,"prh":2.12,"po":2.18,"pol":1.93,"poh":2.44},
{"yr":2009,"pr":1.92,"prl":1.72,"prh":2.12,"po":2.18,"pol":1.93,"poh":2.45},
{"yr":2010,"pr":2.08,"prl":1.87,"prh":2.29,"po":2.34,"pol":2.08,"poh":2.62},
{"yr":2011,"pr":2.1,"prl":1.88,"prh":2.31,"po":2.38,"pol":2.11,"poh":2.66},
{"yr":2012,"pr":2.1,"prl":1.88,"prh":2.31,"po":2.38,"pol":2.11,"poh":2.66},
{"yr":2013,"pr":2.12,"prl":1.9,"prh":2.33,"po":2.4,"pol":2.13,"poh":2.69},
{"yr":2014,"pr":2.05,"prl":1.83,"prh":2.26,"po":2.33,"pol":2.06,"poh":2.62},
{"yr":2015,"pr":2.02,"prl":1.79,"prh":2.24,"po":2.3,"pol":2.03,"poh":2.6},
{"yr":2016,"pr":2.1,"prl":1.87,"prh":2.32,"po":2.38,"pol":2.11,"poh":2.68},
{"yr":2017,"pr":2.22,"prl":1.98,"prh":2.45,"po":2.5,"pol":2.22,"poh":2.81},
{"yr":2018,"pr":2.15,"prl":1.91,"prh":2.38,"po":2.42,"pol":2.14,"poh":2.74},
{"yr":2019,"pr":2.2,"prl":1.96,"prh":2.43,"po":2.42,"pol":2.14,"poh":2.74},
{"yr":2020,"pr":2.23,"prl":1.9,"prh":2.55,"po":2.46,"pol":2.17,"poh":2.79}
],
"o_obs":[
{"yr":1960,"v":0.9},{"yr":1961,"v":0.8},{"yr":1962,"v":0.82},{"yr":1963,"v":0.92},{"yr":1964,"v":1.0},{"yr":1965,"v":1.1},{"yr":1966,"v":1.2},{"yr":1967,"v":1.28},{"yr":1968,"v":1.2},{"yr":1969,"v":1.13},{"yr":1970,"v":1.18},{"yr":1971,"v":1.15},{"yr":1972,"v":1.13},{"yr":1973,"v":1.22},{"yr":1974,"v":1.33},{"yr":1975,"v":1.35},{"yr":1976,"v":1.3},{"yr":1977,"v":1.35},{"yr":1978,"v":1.4},{"yr":1979,"v":1.47},{"yr":1980,"v":1.45},{"yr":1981,"v":1.47},{"yr":1982,"v":1.57},{"yr":1983,"v":1.7},{"yr":1984,"v":1.8},{"yr":1985,"v":1.92},{"yr":1986,"v":1.93},{"yr":1987,"v":1.8},{"yr":1988,"v":1.85},{"yr":1989,"v":1.77},{"yr":1990,"v":1.9},{"yr":1991,"v":2.1},{"yr":1992,"v":2.17},{"yr":1993,"v":2.1},{"yr":1994,"v":2.0},{"yr":1995,"v":2.0},{"yr":1996,"v":2.05},{"yr":1997,"v":2.0},{"yr":1998,"v":2.12},{"yr":1999,"v":2.05},{"yr":2000,"v":1.9},{"yr":2001,"v":1.8},{"yr":2002,"v":1.9},{"yr":2003,"v":2.1},{"yr":2004,"v":2.25},{"yr":2005,"v":2.2},{"yr":2006,"v":2.3},{"yr":2007,"v":2.3},{"yr":2008,"v":2.35},{"yr":2009,"v":2.45},{"yr":2010,"v":2.5},{"yr":2011,"v":2.55},{"yr":2012,"v":2.6},{"yr":2013,"v":2.65},{"yr":2014,"v":2.75},{"yr":2015,"v":2.85},{"yr":2016,"v":2.95},{"yr":2017,"v":2.88},{"yr":2018,"v":2.9},{"yr":2019,"v":3.0}
],
"o_gcb":[
{"yr":1965,"x0":1960,"x1":1970,"v":1.06,"lo":0.8,"hi":1.36},
{"yr":1975,"x0":1970,"x1":1980,"v":1.34,"lo":0.95,"hi":1.75},
{"yr":1985,"x0":1980,"x1":1990,"v":1.8,"lo":1.42,"hi":2.18},
{"yr":1995,"x0":1990,"x1":2000,"v":2.0,"lo":1.53,"hi":2.5},
{"yr":2005,"x0":2000,"x1":2010,"v":2.22,"lo":1.72,"hi":2.72},
{"yr":2015,"x0":2010,"x1":2020,"v":2.75,"lo":2.15,"hi":3.35}
],
"r_ar6":[{"yr":2020,"lo":0.15,"hi":1.22}]
},
"concat":[
{"title":{"text":"T (K)","offset":1},"width":542,"height":296,"data":{"name":"t"},
"encoding":{"x":{"field":"yr","type":"quantitative","title":null,"scale":{"domain":[1894.17,2025.83],"nice":false},"axis":{"values":[1900,1920,1940,1960,1980,2000,2020],"format":"d"}}},
"layer":[
{"mark":{"type":"area","color":"#7f7f7f","opacity":0.18,"stroke":"#7f7f7f","strokeWidth":1},"encoding":{"y":{"field":"lo","type":"quantitative","title":null,"scale":{"domain":[-0.358,1.436],"nice":false,"zero":false},"axis":{"values":[0,0.5,1],"format":".1f"}},"y2":{"field":"hi"}}},
{"mark":{"type":"area","color":"#1f77b4","opacity":0.18,"stroke":"#1f77b4","strokeWidth":1},"encoding":{"y":{"field":"lo","type":"quantitative","title":null},"y2":{"field":"hi"}}},
{"mark":{"type":"line","strokeWidth":2.5,"opacity":0.85},"encoding":{"y":{"field":"m","type":"quantitative","title":null},"color":{"datum":"prior","scale":{"domain":["prior","post.","Berkeley_Earth","Cowtan_and_Way","GISTEMP","HadCRUT5","NOAAGlobalTemp"],"range":["#555555","#2f8cc4","#ff0000","#ff0000","#ff0000","#ff0000","#ff0000"]},"legend":{"encoding":{"symbols":{"opacity":{"value":{"expr":"datum.value==='prior'||datum.value==='post.'?0.9:0.16"}}}}}}}},
{"mark":{"type":"line","strokeWidth":2.5,"opacity":0.85},"encoding":{"y":{"field":"m","type":"quantitative","title":null},"color":{"datum":"post."}}},
{"mark":{"type":"line","strokeWidth":1.2,"opacity":0.3},"encoding":{"y":{"field":"be","type":"quantitative","title":null},"color":{"datum":"Berkeley_Earth"}}},
{"mark":{"type":"line","strokeWidth":1.2,"opacity":0.3},"encoding":{"y":{"field":"co","type":"quantitative","title":null},"color":{"datum":"Cowtan_and_Way"}}},
{"mark":{"type":"line","strokeWidth":1.2,"opacity":0.3},"encoding":{"y":{"field":"gi","type":"quantitative","title":null},"color":{"datum":"GISTEMP"}}},
{"mark":{"type":"line","strokeWidth":1.2,"opacity":0.3},"encoding":{"y":{"field":"ha","type":"quantitative","title":null},"color":{"datum":"HadCRUT5"}}},
{"mark":{"type":"line","strokeWidth":1.2,"opacity":0.3},"encoding":{"y":{"field":"no","type":"quantitative","title":null},"color":{"datum":"NOAAGlobalTemp"}}}
]},
{"title":{"text":"C (ppm)","offset":4},"width":542,"height":296,
"encoding":{"x":{"field":"yr","type":"quantitative","title":null,"scale":{"domain":[1894.17,2025.83],"nice":false},"axis":{"values":[1900,1920,1940,1960,1980,2000,2020],"format":"d"}}},
"layer":[
{"data":{"name":"c"},"mark":{"type":"line","strokeWidth":4,"opacity":0.5},"encoding":{"y":{"field":"m","type":"quantitative","title":null,"scale":{"domain":[290,418.4],"nice":false,"zero":false},"axis":{"values":[300,325,350,375,400]}},"color":{"datum":"prior","scale":{"domain":["prior","post.","NOAA/ESRL"],"range":["#555555","#2f8cc4","#ff0000"]},"legend":{"encoding":{"symbols":{"opacity":{"value":0.9},"strokeDash":{"value":{"expr":"datum.value==='NOAA/ESRL'?[4,2]:[1,0]"}}}}}}}},
{"data":{"name":"c_obs"},"mark":{"type":"line","strokeWidth":2.5,"strokeDash":[6,4]},"encoding":{"y":{"field":"v","type":"quantitative","title":null},"color":{"datum":"NOAA/ESRL"}}},
{"data":{"name":"c"},"mark":{"type":"line","strokeWidth":2.5,"opacity":0.85,"strokeDash":[9,9]},"encoding":{"y":{"field":"m","type":"quantitative","title":null},"color":{"datum":"post."}}},
{"data":{"name":"c"},"transform":[{"filter":"datum.yr<=1980"}],"mark":{"type":"line","strokeWidth":2.5,"color":"#1f6c9c"},"encoding":{"y":{"field":"m","type":"quantitative","title":null}}}
]},
{"title":{"text":"Rₓ (W m⁻²)","offset":4},"width":542,"height":296,
"encoding":{"x":{"field":"yr","type":"quantitative","title":null,"scale":{"domain":[1894.17,2025.83],"nice":false},"axis":{"values":[1900,1920,1940,1960,1980,2000,2020],"format":"d"}}},
"layer":[
{"data":{"name":"r"},"mark":{"type":"area","color":"#7f7f7f","opacity":0.3,"stroke":"#7f7f7f","strokeWidth":1},"encoding":{"y":{"field":"prl","type":"quantitative","title":null,"scale":{"domain":[-2.53,2.07],"nice":false,"zero":false},"axis":{"values":[-2,-1,0,1,2],"format":"d"}},"y2":{"field":"prh"}}},
{"data":{"name":"r"},"mark":{"type":"area","color":"#1f77b4","opacity":0.3,"stroke":"#1f77b4","strokeWidth":1},"encoding":{"y":{"field":"pol","type":"quantitative","title":null},"y2":{"field":"poh"}}},
{"data":{"name":"r"},"mark":{"type":"line","strokeWidth":3,"opacity":0.85},"encoding":{"y":{"field":"pr","type":"quantitative","title":null},"color":{"datum":"prior","scale":{"domain":["prior","post.","AR6"],"range":["#555555","#1f6fa5","#ff0000"]},"legend":{"encoding":{"symbols":{"opacity":{"value":0.9},"strokeDash":{"value":{"expr":"datum.value==='AR6'?[4,2]:[1,0]"}}}}}}}},
{"data":{"name":"r"},"mark":{"type":"line","strokeWidth":3,"opacity":0.9},"encoding":{"y":{"field":"po","type":"quantitative","title":null},"color":{"datum":"post."}}},
{"data":{"name":"r"},"mark":{"type":"line","strokeWidth":2.5,"opacity":0.85,"strokeDash":[7,3]},"encoding":{"y":{"field":"ob","type":"quantitative","title":null},"color":{"datum":"AR6"}}},
{"data":{"name":"r_ar6"},"mark":{"type":"rule","strokeWidth":2.3,"color":"#ff0000","opacity":0.85},"encoding":{"y":{"field":"lo","type":"quantitative","title":null},"y2":{"field":"hi"}}}
]},
{"title":{"text":"ECO₂ (PgC yr⁻¹)","offset":3},"width":542,"height":296,
"encoding":{"x":{"field":"yr","type":"quantitative","title":null,"scale":{"domain":[1894.17,2025.83],"nice":false},"axis":{"values":[1900,1920,1940,1960,1980,2000,2020],"format":"d"}}},
"layer":[
{"data":{"name":"e"},"mark":{"type":"area","color":"#7f7f7f","opacity":0.3,"stroke":"#7f7f7f","strokeWidth":1},"encoding":{"y":{"field":"prl","type":"quantitative","title":null,"scale":{"domain":[-0.97,12.27],"nice":false,"zero":false},"axis":{"values":[0,2.5,5,7.5,10],"format":".1f"}},"y2":{"field":"prh"}}},
{"data":{"name":"e"},"mark":{"type":"area","color":"#1f77b4","opacity":0.3,"stroke":"#1f77b4","strokeWidth":1},"encoding":{"y":{"field":"pol","type":"quantitative","title":null},"y2":{"field":"poh"}}},
{"data":{"name":"e"},"mark":{"type":"line","strokeWidth":2.5,"opacity":0.85},"encoding":{"y":{"field":"pr","type":"quantitative","title":null},"color":{"datum":"prior","scale":{"domain":["prior","post.","GCB 2021"],"range":["#555555","#2f8cc4","#ff0000"]},"legend":{"encoding":{"symbols":{"opacity":{"value":0.9},"shape":{"value":{"expr":"datum.value==='GCB 2021'?'M-1,0H1M0,-1V1':'stroke'"}},"size":{"value":{"expr":"datum.value==='GCB 2021'?170:81"}}}}}}}},
{"data":{"name":"e"},"mark":{"type":"line","strokeWidth":2.5,"opacity":0.85},"encoding":{"y":{"field":"po","type":"quantitative","title":null},"color":{"datum":"post."}}},
{"data":{"name":"e_obs"},"mark":{"type":"line","strokeWidth":3,"strokeDash":[0.1,7],"strokeCap":"round"},"encoding":{"y":{"field":"v","type":"quantitative","title":null},"color":{"datum":"GCB 2021"}}},
{"data":{"name":"e_gcb"},"mark":{"type":"rule","strokeWidth":2.3,"color":"#ff0000","opacity":0.85},"encoding":{"x":{"field":"x0","type":"quantitative","title":null},"x2":{"field":"x1"},"y":{"field":"v","type":"quantitative","title":null}}},
{"data":{"name":"e_gcb"},"mark":{"type":"rule","strokeWidth":2.3,"color":"#ff0000","opacity":0.85},"encoding":{"y":{"field":"lo","type":"quantitative","title":null},"y2":{"field":"hi"}}}
]},
{"title":{"text":"Fland (PgC yr⁻¹)","offset":3},"width":542,"height":297,
"encoding":{"x":{"field":"yr","type":"quantitative","title":null,"scale":{"domain":[1894.17,2025.83],"nice":false},"axis":{"values":[1900,1920,1940,1960,1980,2000,2020],"format":"d"}}},
"layer":[
{"data":{"name":"l"},"mark":{"type":"area","color":"#7f7f7f","opacity":0.3,"stroke":"#7f7f7f","strokeWidth":1},"encoding":{"y":{"field":"prl","type":"quantitative","title":null,"scale":{"domain":[-0.69,4.21],"nice":false,"zero":false},"axis":{"values":[0,1,2,3,4],"format":"d"}},"y2":{"field":"prh"}}},
{"data":{"name":"l"},"mark":{"type":"area","color":"#1f77b4","opacity":0.3,"stroke":"#1f77b4","strokeWidth":1},"encoding":{"y":{"field":"pol","type":"quantitative","title":null},"y2":{"field":"poh"}}},
{"data":{"name":"l"},"mark":{"type":"line","strokeWidth":2.5,"opacity":0.85},"encoding":{"y":{"field":"pr","type":"quantitative","title":null},"color":{"datum":"prior","scale":{"domain":["prior","post.","GCB 2021"],"range":["#555555","#2f8cc4","#ff0000"]},"legend":{"encoding":{"symbols":{"opacity":{"value":0.9},"shape":{"value":{"expr":"datum.value==='GCB 2021'?'M-1,0H1M0,-1V1':'stroke'"}},"size":{"value":{"expr":"datum.value==='GCB 2021'?170:81"}}}}}}}},
{"data":{"name":"l"},"mark":{"type":"line","strokeWidth":2.5,"opacity":0.85},"encoding":{"y":{"field":"po","type":"quantitative","title":null},"color":{"datum":"post."}}},
{"data":{"name":"l_obs"},"mark":{"type":"line","strokeWidth":3,"strokeDash":[0.1,5],"strokeCap":"round"},"encoding":{"y":{"field":"v","type":"quantitative","title":null},"color":{"datum":"GCB 2021"}}},
{"data":{"name":"l_gcb"},"mark":{"type":"rule","strokeWidth":2.3,"color":"#ff0000","opacity":0.85},"encoding":{"x":{"field":"x0","type":"quantitative","title":null},"x2":{"field":"x1"},"y":{"field":"v","type":"quantitative","title":null}}},
{"data":{"name":"l_gcb"},"mark":{"type":"rule","strokeWidth":2.3,"color":"#ff0000","opacity":0.85},"encoding":{"y":{"field":"lo","type":"quantitative","title":null},"y2":{"field":"hi"}}}
]},
{"title":{"text":"Focean (PgC yr⁻¹)","offset":3},"width":542,"height":297,
"encoding":{"x":{"field":"yr","type":"quantitative","title":null,"scale":{"domain":[1894.17,2025.83],"nice":false},"axis":{"values":[1900,1920,1940,1960,1980,2000,2020],"format":"d"}}},
"layer":[
{"data":{"name":"o"},"mark":{"type":"area","color":"#7f7f7f","opacity":0.3,"stroke":"#7f7f7f","strokeWidth":1},"encoding":{"y":{"field":"prl","type":"quantitative","title":null,"scale":{"domain":[0.065,3.52],"nice":false,"zero":false},"axis":{"values":[1,2,3],"format":"d"}},"y2":{"field":"prh"}}},
{"data":{"name":"o"},"mark":{"type":"area","color":"#1f77b4","opacity":0.3,"stroke":"#1f77b4","strokeWidth":1},"encoding":{"y":{"field":"pol","type":"quantitative","title":null},"y2":{"field":"poh"}}},
{"data":{"name":"o"},"mark":{"type":"line","strokeWidth":2.5,"opacity":0.85},"encoding":{"y":{"field":"pr","type":"quantitative","title":null},"color":{"datum":"prior","scale":{"domain":["prior","post.","GCB 2021"],"range":["#555555","#2f8cc4","#ff0000"]},"legend":{"encoding":{"symbols":{"opacity":{"value":0.9},"shape":{"value":{"expr":"datum.value==='GCB 2021'?'M-1,0H1M0,-1V1':'stroke'"}},"size":{"value":{"expr":"datum.value==='GCB 2021'?170:81"}}}}}}}},
{"data":{"name":"o"},"mark":{"type":"line","strokeWidth":2.5,"opacity":0.85},"encoding":{"y":{"field":"po","type":"quantitative","title":null},"color":{"datum":"post."}}},
{"data":{"name":"o_obs"},"mark":{"type":"line","strokeWidth":3,"strokeDash":[0.1,6.5],"strokeCap":"round"},"encoding":{"y":{"field":"v","type":"quantitative","title":null},"color":{"datum":"GCB 2021"}}},
{"data":{"name":"o_gcb"},"mark":{"type":"rule","strokeWidth":2.3,"color":"#ff0000","opacity":0.85},"encoding":{"x":{"field":"x0","type":"quantitative","title":null},"x2":{"field":"x1"},"y":{"field":"v","type":"quantitative","title":null}}},
{"data":{"name":"o_gcb"},"mark":{"type":"rule","strokeWidth":2.3,"color":"#ff0000","opacity":0.85},"encoding":{"y":{"field":"lo","type":"quantitative","title":null},"y2":{"field":"hi"}}}
]}
]
}
